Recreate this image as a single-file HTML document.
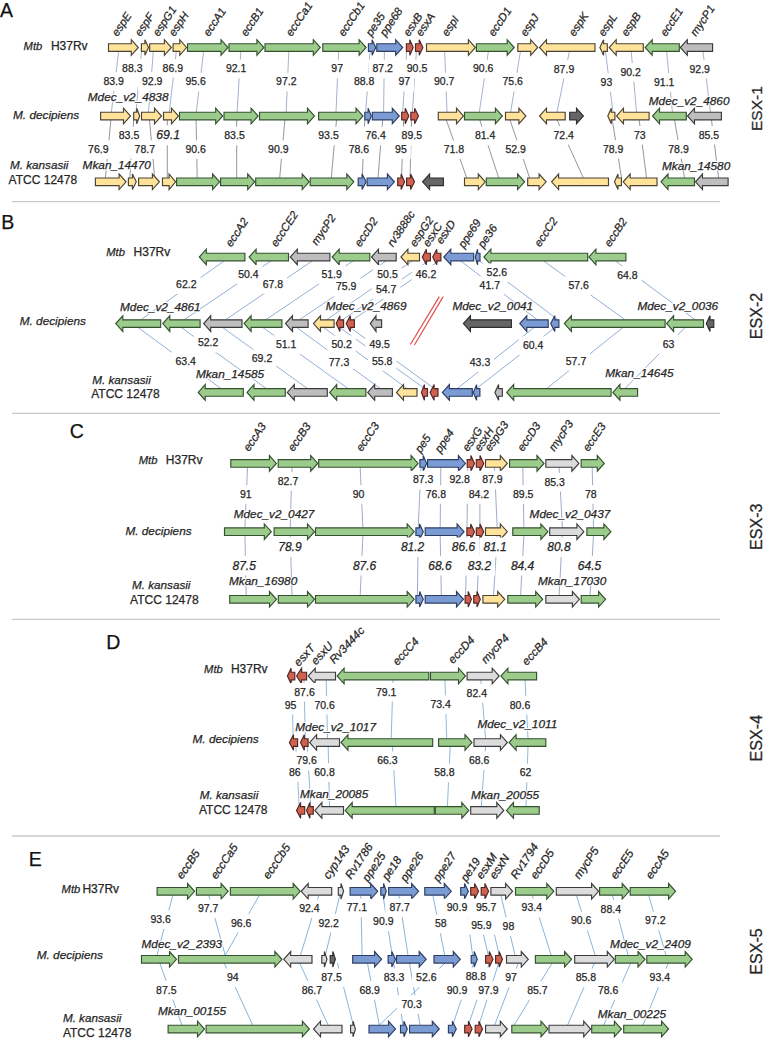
<!DOCTYPE html>
<html><head><meta charset="utf-8"><style>
html,body{margin:0;padding:0;background:#fff;width:763px;height:1039px;overflow:hidden}
svg{display:block}
text{font-family:"Liberation Sans", sans-serif}
text.h{paint-order:stroke;stroke:#fff;stroke-width:2.4px;stroke-linejoin:round}
</style></head><body>
<svg width="763" height="1039" viewBox="0 0 763 1039" font-family='"Liberation Sans", sans-serif'>
<rect width="763" height="1039" fill="#fff"/>
<line x1="12" y1="201.6" x2="720" y2="201.6" stroke="#C8C8C8" stroke-width="1.3"/>
<line x1="12" y1="413.4" x2="720" y2="413.4" stroke="#C8C8C8" stroke-width="1.3"/>
<line x1="12" y1="619.4" x2="720" y2="619.4" stroke="#C8C8C8" stroke-width="1.3"/>
<line x1="12" y1="836.0" x2="720" y2="836.0" stroke="#C8C8C8" stroke-width="1.3"/>
<g stroke="#7FA0CC" stroke-width="0.85" fill="none">
<line x1="118.6" y1="51.5" x2="111.4" y2="112.0" stroke="#94A6C2"/>
<line x1="141.5" y1="51.5" x2="136.0" y2="112.0" stroke="#94A6C2"/>
<line x1="153.3" y1="51.5" x2="148.5" y2="112.0" stroke="#94A6C2"/>
<line x1="176.3" y1="51.5" x2="169.3" y2="112.0" stroke="#94A6C2"/>
<line x1="203.6" y1="51.5" x2="196.3" y2="112.0" stroke="#94A6C2"/>
<line x1="240.8" y1="51.5" x2="237.1" y2="112.0" stroke="#94A6C2"/>
<line x1="288.8" y1="51.5" x2="286.2" y2="112.0" stroke="#94A6C2"/>
<line x1="338.6" y1="51.5" x2="336.0" y2="112.0" stroke="#94A6C2"/>
<line x1="370.0" y1="51.5" x2="365.7" y2="112.0" stroke="#94A6C2"/>
<line x1="384.4" y1="51.5" x2="383.6" y2="112.0" stroke="#94A6C2"/>
<line x1="406.7" y1="51.5" x2="402.7" y2="112.0" stroke="#94A6C2"/>
<line x1="416.4" y1="51.5" x2="412.4" y2="112.0" stroke="#94A6C2"/>
<line x1="444.7" y1="51.5" x2="447.0" y2="112.0" stroke="#94A6C2"/>
<line x1="488.4" y1="51.5" x2="479.3" y2="112.0" stroke="#94A6C2"/>
<line x1="520.4" y1="51.5" x2="510.7" y2="112.0" stroke="#94A6C2"/>
<line x1="569.4" y1="51.5" x2="557.0" y2="112.0" stroke="#94A6C2"/>
<line x1="605.5" y1="51.5" x2="612.9" y2="112.0" stroke="#94A6C2"/>
<line x1="631.2" y1="51.5" x2="636.5" y2="112.0" stroke="#94A6C2"/>
<line x1="666.6" y1="51.5" x2="672.4" y2="112.0" stroke="#94A6C2"/>
<line x1="703.0" y1="51.5" x2="710.4" y2="112.0" stroke="#94A6C2"/>
<line x1="110.9" y1="120.0" x2="105.4" y2="177.8" stroke="#7E848C"/>
<line x1="133.7" y1="120.0" x2="129.8" y2="177.8" stroke="#7E848C"/>
<line x1="149.5" y1="120.0" x2="154.7" y2="177.8" stroke="#7E848C"/>
<line x1="167.3" y1="120.0" x2="167.3" y2="177.8" stroke="#7E848C"/>
<line x1="196.1" y1="120.0" x2="197.2" y2="177.8" stroke="#7E848C"/>
<line x1="236.7" y1="120.0" x2="236.7" y2="177.8" stroke="#7E848C"/>
<line x1="284.9" y1="120.0" x2="279.7" y2="177.8" stroke="#7E848C"/>
<line x1="336.5" y1="120.0" x2="331.3" y2="177.8" stroke="#7E848C"/>
<line x1="364.8" y1="120.0" x2="362.2" y2="177.8" stroke="#7E848C"/>
<line x1="382.7" y1="120.0" x2="378.0" y2="177.8" stroke="#7E848C"/>
<line x1="403.6" y1="120.0" x2="401.5" y2="177.8" stroke="#7E848C"/>
<line x1="411.5" y1="120.0" x2="410.0" y2="177.8" stroke="#7E848C"/>
<line x1="446.3" y1="120.0" x2="466.7" y2="177.8" stroke="#7E848C"/>
<line x1="479.8" y1="120.0" x2="498.7" y2="177.8" stroke="#7E848C"/>
<line x1="510.0" y1="120.0" x2="529.6" y2="177.8" stroke="#7E848C"/>
<line x1="557.1" y1="120.0" x2="583.3" y2="177.8" stroke="#7E848C"/>
<line x1="612.3" y1="120.0" x2="621.5" y2="177.8" stroke="#7E848C"/>
<line x1="639.2" y1="120.0" x2="646.5" y2="177.8" stroke="#7E848C"/>
<line x1="674.5" y1="120.0" x2="684.5" y2="177.8" stroke="#7E848C"/>
<line x1="711.5" y1="120.0" x2="718.6" y2="177.8" stroke="#7E848C"/>
<line x1="224.1" y1="261.0" x2="141.2" y2="319.6"/>
<line x1="270.8" y1="261.0" x2="184.4" y2="319.6"/>
<line x1="312.1" y1="261.0" x2="225.8" y2="319.6"/>
<line x1="353.0" y1="261.0" x2="266.0" y2="319.6"/>
<line x1="385.9" y1="261.0" x2="299.8" y2="319.6"/>
<line x1="412.2" y1="261.0" x2="326.8" y2="319.6"/>
<line x1="428.4" y1="261.0" x2="342.9" y2="319.6"/>
<line x1="438.8" y1="261.0" x2="353.3" y2="319.6"/>
<line x1="460.8" y1="261.0" x2="537.0" y2="319.6"/>
<line x1="479.6" y1="261.0" x2="557.8" y2="319.6"/>
<line x1="543.8" y1="261.0" x2="624.8" y2="319.6"/>
<line x1="615.4" y1="261.0" x2="695.0" y2="319.6"/>
<line x1="138.2" y1="327.6" x2="220.8" y2="388.4"/>
<line x1="181.4" y1="327.6" x2="266.1" y2="388.4"/>
<line x1="222.8" y1="327.6" x2="307.3" y2="388.4"/>
<line x1="263.0" y1="327.6" x2="347.8" y2="388.4"/>
<line x1="296.8" y1="327.6" x2="380.0" y2="388.4"/>
<line x1="323.8" y1="327.6" x2="406.8" y2="388.4"/>
<line x1="339.9" y1="327.6" x2="424.4" y2="388.4"/>
<line x1="350.3" y1="327.6" x2="434.1" y2="388.4"/>
<line x1="534.0" y1="327.6" x2="457.4" y2="388.4"/>
<line x1="554.8" y1="327.6" x2="476.6" y2="388.4"/>
<line x1="685.0" y1="327.6" x2="625.2" y2="388.4"/>
<line x1="622.8" y1="327.6" x2="546.9" y2="388.4"/>
<line x1="247.5" y1="467.4" x2="244.9" y2="527.7" stroke="#8A9CC2"/>
<line x1="292.0" y1="467.4" x2="290.2" y2="527.7" stroke="#8A9CC2"/>
<line x1="360.2" y1="467.4" x2="362.9" y2="527.7" stroke="#8A9CC2"/>
<line x1="421.0" y1="467.4" x2="418.2" y2="527.7" stroke="#8A9CC2"/>
<line x1="440.8" y1="467.4" x2="440.2" y2="527.7" stroke="#8A9CC2"/>
<line x1="467.8" y1="467.4" x2="467.0" y2="527.7" stroke="#8A9CC2"/>
<line x1="479.9" y1="467.4" x2="479.9" y2="527.7" stroke="#8A9CC2"/>
<line x1="494.5" y1="467.4" x2="497.2" y2="527.7" stroke="#8A9CC2"/>
<line x1="522.8" y1="467.4" x2="523.9" y2="527.7" stroke="#8A9CC2"/>
<line x1="559.1" y1="467.4" x2="562.4" y2="527.7" stroke="#8A9CC2"/>
<line x1="592.2" y1="467.4" x2="593.5" y2="527.7" stroke="#8A9CC2"/>
<line x1="244.9" y1="535.7" x2="246.2" y2="595.3" stroke="#8A9CC2"/>
<line x1="290.2" y1="535.7" x2="292.0" y2="595.3" stroke="#8A9CC2"/>
<line x1="362.9" y1="535.7" x2="360.2" y2="595.3" stroke="#8A9CC2"/>
<line x1="418.2" y1="535.7" x2="417.4" y2="595.3" stroke="#8A9CC2"/>
<line x1="440.2" y1="535.7" x2="441.3" y2="595.3" stroke="#8A9CC2"/>
<line x1="467.0" y1="535.7" x2="465.6" y2="595.3" stroke="#8A9CC2"/>
<line x1="479.9" y1="535.7" x2="477.1" y2="595.3" stroke="#8A9CC2"/>
<line x1="497.2" y1="535.7" x2="493.6" y2="595.3" stroke="#8A9CC2"/>
<line x1="523.9" y1="535.7" x2="520.6" y2="595.3" stroke="#8A9CC2"/>
<line x1="562.4" y1="535.7" x2="559.1" y2="595.3" stroke="#8A9CC2"/>
<line x1="593.5" y1="535.7" x2="590.0" y2="595.3" stroke="#8A9CC2"/>
<line x1="291.8" y1="680.0" x2="293.2" y2="738.5" stroke="#7AAED6"/>
<line x1="304.0" y1="680.0" x2="305.3" y2="738.5" stroke="#7AAED6"/>
<line x1="326.2" y1="680.0" x2="327.5" y2="738.5" stroke="#7AAED6"/>
<line x1="393.0" y1="680.0" x2="391.2" y2="738.5" stroke="#7AAED6"/>
<line x1="445.0" y1="680.0" x2="446.7" y2="738.5" stroke="#7AAED6"/>
<line x1="480.8" y1="680.0" x2="485.6" y2="738.5" stroke="#7AAED6"/>
<line x1="525.0" y1="680.0" x2="528.0" y2="738.5" stroke="#7AAED6"/>
<line x1="295.9" y1="746.5" x2="299.2" y2="806.4" stroke="#7AAED6"/>
<line x1="307.3" y1="746.5" x2="310.7" y2="806.4" stroke="#7AAED6"/>
<line x1="328.2" y1="746.5" x2="329.5" y2="806.4" stroke="#7AAED6"/>
<line x1="392.4" y1="746.5" x2="396.0" y2="806.4" stroke="#7AAED6"/>
<line x1="450.2" y1="746.5" x2="447.4" y2="806.4" stroke="#7AAED6"/>
<line x1="485.6" y1="746.5" x2="481.3" y2="806.4" stroke="#7AAED6"/>
<line x1="528.0" y1="746.5" x2="526.0" y2="806.4" stroke="#7AAED6"/>
<line x1="172.8" y1="895.3" x2="157.0" y2="955.3" stroke="#6FA8D6"/>
<line x1="208.7" y1="895.3" x2="225.2" y2="955.3" stroke="#6FA8D6"/>
<line x1="259.3" y1="895.3" x2="225.2" y2="955.3" stroke="#6FA8D6"/>
<line x1="318.8" y1="895.3" x2="300.5" y2="955.3" stroke="#6FA8D6"/>
<line x1="339.8" y1="895.3" x2="325.4" y2="955.3" stroke="#6FA8D6"/>
<line x1="360.8" y1="895.3" x2="362.1" y2="955.3" stroke="#6FA8D6"/>
<line x1="383.0" y1="895.3" x2="392.2" y2="955.3" stroke="#6FA8D6"/>
<line x1="398.8" y1="895.3" x2="408.0" y2="955.3" stroke="#6FA8D6"/>
<line x1="432.9" y1="895.3" x2="444.7" y2="955.3" stroke="#6FA8D6"/>
<line x1="464.7" y1="895.3" x2="472.6" y2="955.3" stroke="#6FA8D6"/>
<line x1="474.2" y1="895.3" x2="488.3" y2="955.3" stroke="#6FA8D6"/>
<line x1="485.2" y1="895.3" x2="499.3" y2="955.3" stroke="#6FA8D6"/>
<line x1="500.9" y1="895.3" x2="515.0" y2="955.3" stroke="#6FA8D6"/>
<line x1="532.3" y1="895.3" x2="551.2" y2="955.3" stroke="#6FA8D6"/>
<line x1="576.4" y1="895.3" x2="595.2" y2="955.3" stroke="#6FA8D6"/>
<line x1="612.5" y1="895.3" x2="628.2" y2="955.3" stroke="#6FA8D6"/>
<line x1="648.7" y1="895.3" x2="666.0" y2="955.3" stroke="#6FA8D6"/>
<line x1="159.9" y1="963.3" x2="181.9" y2="1025.0" stroke="#6FA8D6"/>
<line x1="224.3" y1="963.3" x2="252.6" y2="1025.0" stroke="#6FA8D6"/>
<line x1="299.8" y1="963.3" x2="328.1" y2="1025.0" stroke="#6FA8D6"/>
<line x1="337.5" y1="963.3" x2="353.3" y2="1025.0" stroke="#6FA8D6"/>
<line x1="367.5" y1="963.3" x2="379.3" y2="1025.0" stroke="#6FA8D6"/>
<line x1="444.8" y1="963.3" x2="379.3" y2="1025.0" stroke="#6FA8D6"/>
<line x1="393.7" y1="963.3" x2="402.9" y2="1025.0" stroke="#6FA8D6"/>
<line x1="409.5" y1="963.3" x2="420.0" y2="1025.0" stroke="#6FA8D6"/>
<line x1="473.7" y1="963.3" x2="452.7" y2="1025.0" stroke="#6FA8D6"/>
<line x1="489.4" y1="963.3" x2="468.4" y2="1025.0" stroke="#6FA8D6"/>
<line x1="498.6" y1="963.3" x2="478.9" y2="1025.0" stroke="#6FA8D6"/>
<line x1="518.2" y1="963.3" x2="494.7" y2="1025.0" stroke="#6FA8D6"/>
<line x1="551.9" y1="963.3" x2="514.2" y2="1025.0" stroke="#6FA8D6"/>
<line x1="594.3" y1="963.3" x2="567.6" y2="1025.0" stroke="#6FA8D6"/>
<line x1="630.5" y1="963.3" x2="603.8" y2="1025.0" stroke="#6FA8D6"/>
<line x1="668.2" y1="963.3" x2="643.0" y2="1025.0" stroke="#6FA8D6"/>
</g>
<g>
<polygon points="108.5,43.7 131.3,43.7 131.3,39.7 138.3,47.5 131.3,55.3 131.3,51.3 108.5,51.3" fill="#FFE39B"/>
<polygon points="141.4,43.7 144.9,43.7 144.9,39.7 148.5,47.5 144.9,55.3 144.9,51.3 141.4,51.3" fill="#FFE39B"/>
<polygon points="149.7,43.7 164.4,43.7 164.4,39.7 171.4,47.5 164.4,55.3 164.4,51.3 149.7,51.3" fill="#FFE39B"/>
<polygon points="173.1,43.7 179.8,43.7 179.8,39.7 186.5,47.5 179.8,55.3 179.8,51.3 173.1,51.3" fill="#FFE39B"/>
<polygon points="187.5,43.7 221.0,43.7 221.0,39.7 228.0,47.5 221.0,55.3 221.0,51.3 187.5,51.3" fill="#9CCC8B"/>
<polygon points="229.0,43.7 256.9,43.7 256.9,39.7 263.9,47.5 256.9,55.3 256.9,51.3 229.0,51.3" fill="#9CCC8B"/>
<polygon points="265.0,43.7 313.3,43.7 313.3,39.7 320.3,47.5 313.3,55.3 313.3,51.3 265.0,51.3" fill="#9CCC8B"/>
<polygon points="322.8,43.7 359.1,43.7 359.1,39.7 366.1,47.5 359.1,55.3 359.1,51.3 322.8,51.3" fill="#9CCC8B"/>
<polygon points="368.4,43.7 372.1,43.7 372.1,39.7 375.8,47.5 372.1,55.3 372.1,51.3 368.4,51.3" fill="#7A9BD3"/>
<polygon points="376.8,43.7 395.7,43.7 395.7,39.7 402.7,47.5 395.7,55.3 395.7,51.3 376.8,51.3" fill="#7A9BD3"/>
<polygon points="406.4,43.7 409.8,43.7 409.8,39.7 413.2,47.5 409.8,55.3 409.8,51.3 406.4,51.3" fill="#D0614F"/>
<polygon points="415.5,43.7 419.2,43.7 419.2,39.7 422.9,47.5 419.2,55.3 419.2,51.3 415.5,51.3" fill="#D0614F"/>
<polygon points="426.5,43.7 468.4,43.7 468.4,39.7 475.4,47.5 468.4,55.3 468.4,51.3 426.5,51.3" fill="#FFE39B"/>
<polygon points="476.4,43.7 507.2,43.7 507.2,39.7 514.2,47.5 507.2,55.3 507.2,51.3 476.4,51.3" fill="#9CCC8B"/>
<polygon points="517.8,43.7 530.7,43.7 530.7,39.7 537.7,47.5 530.7,55.3 530.7,51.3 517.8,51.3" fill="#FFE39B"/>
<polygon points="595.0,43.7 546.5,43.7 546.5,39.7 539.5,47.5 546.5,55.3 546.5,51.3 595.0,51.3" fill="#FFE39B"/>
<polygon points="607.3,43.7 603.6,43.7 603.6,39.7 599.9,47.5 603.6,55.3 603.6,51.3 607.3,51.3" fill="#FFE39B"/>
<polygon points="643.3,43.7 616.2,43.7 616.2,39.7 609.2,47.5 616.2,55.3 616.2,51.3 643.3,51.3" fill="#FFE39B"/>
<polygon points="679.3,43.7 652.2,43.7 652.2,39.7 645.2,47.5 652.2,55.3 652.2,51.3 679.3,51.3" fill="#9CCC8B"/>
<polygon points="712.6,43.7 687.3,43.7 687.3,39.7 680.3,47.5 687.3,55.3 687.3,51.3 712.6,51.3" fill="#BEBEBE"/>
<polygon points="100.6,112.2 123.5,112.2 123.5,108.2 130.5,116.0 123.5,123.8 123.5,119.8 100.6,119.8" fill="#FFE39B"/>
<polygon points="133.7,112.2 136.7,112.2 136.7,108.2 139.7,116.0 136.7,123.8 136.7,119.8 133.7,119.8" fill="#FFE39B"/>
<polygon points="141.5,112.2 154.5,112.2 154.5,108.2 161.5,116.0 154.5,123.8 154.5,119.8 141.5,119.8" fill="#FFE39B"/>
<polygon points="163.5,112.2 171.5,112.2 171.5,108.2 178.5,116.0 171.5,123.8 171.5,119.8 163.5,119.8" fill="#FFE39B"/>
<polygon points="179.5,112.2 215.7,112.2 215.7,108.2 222.7,116.0 215.7,123.8 215.7,119.8 179.5,119.8" fill="#9CCC8B"/>
<polygon points="224.0,112.2 251.1,112.2 251.1,108.2 258.1,116.0 251.1,123.8 251.1,119.8 224.0,119.8" fill="#9CCC8B"/>
<polygon points="259.5,112.2 307.5,112.2 307.5,108.2 314.5,116.0 307.5,123.8 307.5,119.8 259.5,119.8" fill="#9CCC8B"/>
<polygon points="318.6,112.2 356.0,112.2 356.0,108.2 363.0,116.0 356.0,123.8 356.0,119.8 318.6,119.8" fill="#9CCC8B"/>
<polygon points="364.8,112.2 368.1,112.2 368.1,108.2 371.3,116.0 368.1,123.8 368.1,119.8 364.8,119.8" fill="#7A9BD3"/>
<polygon points="372.3,112.2 392.3,112.2 392.3,108.2 399.3,116.0 392.3,123.8 392.3,119.8 372.3,119.8" fill="#7A9BD3"/>
<polygon points="401.7,112.2 405.2,112.2 405.2,108.2 408.8,116.0 405.2,123.8 405.2,119.8 401.7,119.8" fill="#D0614F"/>
<polygon points="410.8,112.2 414.6,112.2 414.6,108.2 418.5,116.0 414.6,123.8 414.6,119.8 410.8,119.8" fill="#D0614F"/>
<polygon points="438.3,112.2 456.5,112.2 456.5,108.2 463.5,116.0 456.5,123.8 456.5,119.8 438.3,119.8" fill="#FFE39B"/>
<polygon points="464.5,112.2 495.4,112.2 495.4,108.2 502.4,116.0 495.4,123.8 495.4,119.8 464.5,119.8" fill="#9CCC8B"/>
<polygon points="505.5,112.2 518.9,112.2 518.9,108.2 525.9,116.0 518.9,123.8 518.9,119.8 505.5,119.8" fill="#FFE39B"/>
<polygon points="565.2,112.2 546.5,112.2 546.5,108.2 539.5,116.0 546.5,123.8 546.5,119.8 565.2,119.8" fill="#FFE39B"/>
<polygon points="569.7,112.2 576.5,112.2 576.5,108.2 583.4,116.0 576.5,123.8 576.5,119.8 569.7,119.8" fill="#666666"/>
<polygon points="614.9,112.2 611.3,112.2 611.3,108.2 607.8,116.0 611.3,123.8 611.3,119.8 614.9,119.8" fill="#FFE39B"/>
<polygon points="649.1,112.2 623.5,112.2 623.5,108.2 616.5,116.0 623.5,123.8 623.5,119.8 649.1,119.8" fill="#FFE39B"/>
<polygon points="686.3,112.2 659.5,112.2 659.5,108.2 652.5,116.0 659.5,123.8 659.5,119.8 686.3,119.8" fill="#9CCC8B"/>
<polygon points="721.4,112.2 694.5,112.2 694.5,108.2 687.5,116.0 694.5,123.8 694.5,119.8 721.4,119.8" fill="#BEBEBE"/>
<polygon points="95.4,178.0 119.1,178.0 119.1,174.0 126.1,181.8 119.1,189.6 119.1,185.6 95.4,185.6" fill="#FFE39B"/>
<polygon points="128.4,178.0 132.4,178.0 132.4,174.0 136.3,181.8 132.4,189.6 132.4,185.6 128.4,185.6" fill="#FFE39B"/>
<polygon points="138.6,178.0 152.4,178.0 152.4,174.0 159.4,181.8 152.4,189.6 152.4,185.6 138.6,185.6" fill="#FFE39B"/>
<polygon points="162.5,178.0 169.1,178.0 169.1,174.0 175.6,181.8 169.1,189.6 169.1,185.6 162.5,185.6" fill="#FFE39B"/>
<polygon points="176.6,178.0 212.6,178.0 212.6,174.0 219.6,181.8 212.6,189.6 212.6,185.6 176.6,185.6" fill="#9CCC8B"/>
<polygon points="220.6,178.0 247.7,178.0 247.7,174.0 254.7,181.8 247.7,189.6 247.7,185.6 220.6,185.6" fill="#9CCC8B"/>
<polygon points="255.7,178.0 302.2,178.0 302.2,174.0 309.2,181.8 302.2,189.6 302.2,185.6 255.7,185.6" fill="#9CCC8B"/>
<polygon points="310.2,178.0 346.8,178.0 346.8,174.0 353.8,181.8 346.8,189.6 346.8,185.6 310.2,185.6" fill="#9CCC8B"/>
<polygon points="358.2,178.0 362.1,178.0 362.1,174.0 366.1,181.8 362.1,189.6 362.1,185.6 358.2,185.6" fill="#7A9BD3"/>
<polygon points="367.1,178.0 387.4,178.0 387.4,174.0 394.4,181.8 387.4,189.6 387.4,185.6 367.1,185.6" fill="#7A9BD3"/>
<polygon points="397.7,178.0 401.1,178.0 401.1,174.0 404.6,181.8 401.1,189.6 401.1,185.6 397.7,185.6" fill="#D0614F"/>
<polygon points="406.6,178.0 410.6,178.0 410.6,174.0 414.5,181.8 410.6,189.6 410.6,185.6 406.6,185.6" fill="#D0614F"/>
<polygon points="443.4,178.0 429.6,178.0 429.6,174.0 422.6,181.8 429.6,189.6 429.6,185.6 443.4,185.6" fill="#666666"/>
<polygon points="464.5,178.0 478.3,178.0 478.3,174.0 485.3,181.8 478.3,189.6 478.3,185.6 464.5,185.6" fill="#FFE39B"/>
<polygon points="486.3,178.0 517.6,178.0 517.6,174.0 524.6,181.8 517.6,189.6 517.6,185.6 486.3,185.6" fill="#9CCC8B"/>
<polygon points="527.7,178.0 539.1,178.0 539.1,174.0 546.1,181.8 539.1,189.6 539.1,185.6 527.7,185.6" fill="#FFE39B"/>
<polygon points="608.5,178.0 558.6,178.0 558.6,174.0 551.6,181.8 558.6,189.6 558.6,185.6 608.5,185.6" fill="#FFE39B"/>
<polygon points="621.4,178.0 618.0,178.0 618.0,174.0 614.5,181.8 618.0,189.6 618.0,185.6 621.4,185.6" fill="#FFE39B"/>
<polygon points="657.0,178.0 630.2,178.0 630.2,174.0 623.2,181.8 630.2,189.6 630.2,185.6 657.0,185.6" fill="#FFE39B"/>
<polygon points="694.5,178.0 668.0,178.0 668.0,174.0 661.0,181.8 668.0,189.6 668.0,185.6 694.5,185.6" fill="#9CCC8B"/>
<polygon points="728.1,178.0 702.5,178.0 702.5,174.0 695.5,181.8 702.5,189.6 702.5,185.6 728.1,185.6" fill="#BEBEBE"/>
<polygon points="244.9,253.2 206.3,253.2 206.3,249.2 199.3,257.0 206.3,264.8 206.3,260.8 244.9,260.8" fill="#9CCC8B"/>
<polygon points="288.5,253.2 256.1,253.2 256.1,249.2 249.1,257.0 256.1,264.8 256.1,260.8 288.5,260.8" fill="#9CCC8B"/>
<polygon points="329.9,253.2 297.3,253.2 297.3,249.2 290.3,257.0 297.3,264.8 297.3,260.8 329.9,260.8" fill="#BEBEBE"/>
<polygon points="369.8,253.2 339.2,253.2 339.2,249.2 332.2,257.0 339.2,264.8 339.2,260.8 369.8,260.8" fill="#9CCC8B"/>
<polygon points="396.2,253.2 378.5,253.2 378.5,249.2 371.5,257.0 378.5,264.8 378.5,260.8 396.2,260.8" fill="#BEBEBE"/>
<polygon points="419.5,253.2 407.9,253.2 407.9,249.2 400.9,257.0 407.9,264.8 407.9,260.8 419.5,260.8" fill="#FFE39B"/>
<polygon points="430.4,253.2 426.4,253.2 426.4,249.2 422.3,257.0 426.4,264.8 426.4,260.8 430.4,260.8" fill="#D0614F"/>
<polygon points="440.9,253.2 436.8,253.2 436.8,249.2 432.7,257.0 436.8,264.8 436.8,260.8 440.9,260.8" fill="#D0614F"/>
<polygon points="473.7,253.2 450.8,253.2 450.8,249.2 443.8,257.0 450.8,264.8 450.8,260.8 473.7,260.8" fill="#7A9BD3"/>
<polygon points="480.0,253.2 477.6,253.2 477.6,249.2 475.2,257.0 477.6,264.8 477.6,260.8 480.0,260.8" fill="#7A9BD3"/>
<polygon points="587.7,253.2 490.9,253.2 490.9,249.2 483.9,257.0 490.9,264.8 490.9,260.8 587.7,260.8" fill="#9CCC8B"/>
<polygon points="625.9,253.2 595.9,253.2 595.9,249.2 588.9,257.0 595.9,264.8 595.9,260.8 625.9,260.8" fill="#9CCC8B"/>
<polygon points="160.7,319.8 122.8,319.8 122.8,315.8 115.8,323.6 122.8,331.4 122.8,327.4 160.7,327.4" fill="#9CCC8B"/>
<polygon points="200.1,319.8 169.8,319.8 169.8,315.8 162.8,323.6 169.8,331.4 169.8,327.4 200.1,327.4" fill="#9CCC8B"/>
<polygon points="242.0,319.8 210.7,319.8 210.7,315.8 203.7,323.6 210.7,331.4 210.7,327.4 242.0,327.4" fill="#BEBEBE"/>
<polygon points="281.9,319.8 251.1,319.8 251.1,315.8 244.1,323.6 251.1,331.4 251.1,327.4 281.9,327.4" fill="#9CCC8B"/>
<polygon points="308.1,319.8 292.5,319.8 292.5,315.8 285.5,323.6 292.5,331.4 292.5,327.4 308.1,327.4" fill="#BEBEBE"/>
<polygon points="334.1,319.8 320.5,319.8 320.5,315.8 313.5,323.6 320.5,331.4 320.5,327.4 334.1,327.4" fill="#FFE39B"/>
<polygon points="343.6,319.8 339.9,319.8 339.9,315.8 336.2,323.6 339.9,331.4 339.9,327.4 343.6,327.4" fill="#D0614F"/>
<polygon points="354.4,319.8 350.3,319.8 350.3,315.8 346.2,323.6 350.3,331.4 350.3,327.4 354.4,327.4" fill="#D0614F"/>
<polygon points="381.6,319.8 376.0,319.8 376.0,315.8 370.3,323.6 376.0,331.4 376.0,327.4 381.6,327.4" fill="#BEBEBE"/>
<polygon points="511.4,319.8 470.4,319.8 470.4,315.8 463.4,323.6 470.4,331.4 470.4,327.4 511.4,327.4" fill="#666666"/>
<polygon points="548.2,319.8 526.8,319.8 526.8,315.8 519.8,323.6 526.8,331.4 526.8,327.4 548.2,327.4" fill="#7A9BD3"/>
<polygon points="558.9,319.8 554.8,319.8 554.8,315.8 550.7,323.6 554.8,331.4 554.8,327.4 558.9,327.4" fill="#7A9BD3"/>
<polygon points="665.1,319.8 571.4,319.8 571.4,315.8 564.4,323.6 571.4,331.4 571.4,327.4 665.1,327.4" fill="#9CCC8B"/>
<polygon points="703.5,319.8 673.6,319.8 673.6,315.8 666.6,323.6 673.6,331.4 673.6,327.4 703.5,327.4" fill="#9CCC8B"/>
<polygon points="713.8,319.8 710.0,319.8 710.0,315.8 706.3,323.6 710.0,331.4 710.0,327.4 713.8,327.4" fill="#666666"/>
<polygon points="243.3,388.6 205.2,388.6 205.2,384.6 198.2,392.4 205.2,400.2 205.2,396.2 243.3,396.2" fill="#9CCC8B"/>
<polygon points="285.3,388.6 254.0,388.6 254.0,384.6 247.0,392.4 254.0,400.2 254.0,396.2 285.3,396.2" fill="#9CCC8B"/>
<polygon points="327.3,388.6 294.3,388.6 294.3,384.6 287.3,392.4 294.3,400.2 294.3,396.2 327.3,396.2" fill="#BEBEBE"/>
<polygon points="365.9,388.6 336.7,388.6 336.7,384.6 329.7,392.4 336.7,400.2 336.7,396.2 365.9,396.2" fill="#9CCC8B"/>
<polygon points="392.4,388.6 374.7,388.6 374.7,384.6 367.7,392.4 374.7,400.2 374.7,396.2 392.4,396.2" fill="#BEBEBE"/>
<polygon points="417.0,388.6 403.5,388.6 403.5,384.6 396.5,392.4 403.5,400.2 403.5,396.2 417.0,396.2" fill="#FFE39B"/>
<polygon points="427.5,388.6 424.4,388.6 424.4,384.6 421.4,392.4 424.4,400.2 424.4,396.2 427.5,396.2" fill="#D0614F"/>
<polygon points="438.0,388.6 434.1,388.6 434.1,384.6 430.1,392.4 434.1,400.2 434.1,396.2 438.0,396.2" fill="#D0614F"/>
<polygon points="472.3,388.6 449.4,388.6 449.4,384.6 442.4,392.4 449.4,400.2 449.4,396.2 472.3,396.2" fill="#7A9BD3"/>
<polygon points="479.9,388.6 476.6,388.6 476.6,384.6 473.3,392.4 476.6,400.2 476.6,396.2 479.9,396.2" fill="#7A9BD3"/>
<polygon points="502.3,388.6 498.6,388.6 498.6,384.6 494.9,392.4 498.6,400.2 498.6,396.2 502.3,396.2" fill="#BEBEBE"/>
<polygon points="611.1,388.6 513.7,388.6 513.7,384.6 506.7,392.4 513.7,400.2 513.7,396.2 611.1,396.2" fill="#9CCC8B"/>
<polygon points="637.6,388.6 619.9,388.6 619.9,384.6 612.9,392.4 619.9,400.2 619.9,396.2 637.6,396.2" fill="#9CCC8B"/>
<polygon points="230.8,459.6 269.4,459.6 269.4,455.6 276.4,463.4 269.4,471.2 269.4,467.2 230.8,467.2" fill="#9CCC8B"/>
<polygon points="278.2,459.6 310.7,459.6 310.7,455.6 317.7,463.4 310.7,471.2 310.7,467.2 278.2,467.2" fill="#9CCC8B"/>
<polygon points="318.7,459.6 411.1,459.6 411.1,455.6 418.1,463.4 411.1,471.2 411.1,467.2 318.7,467.2" fill="#9CCC8B"/>
<polygon points="419.9,459.6 423.2,459.6 423.2,455.6 426.6,463.4 423.2,471.2 423.2,467.2 419.9,467.2" fill="#7A9BD3"/>
<polygon points="427.6,459.6 458.4,459.6 458.4,455.6 465.4,463.4 458.4,471.2 458.4,467.2 427.6,467.2" fill="#7A9BD3"/>
<polygon points="467.2,459.6 470.9,459.6 470.9,455.6 474.5,463.4 470.9,471.2 470.9,467.2 467.2,467.2" fill="#D0614F"/>
<polygon points="476.3,459.6 480.0,459.6 480.0,455.6 483.7,463.4 480.0,471.2 480.0,467.2 476.3,467.2" fill="#D0614F"/>
<polygon points="485.5,459.6 500.3,459.6 500.3,455.6 507.3,463.4 500.3,471.2 500.3,467.2 485.5,467.2" fill="#FFE39B"/>
<polygon points="509.6,459.6 537.0,459.6 537.0,455.6 544.0,463.4 537.0,471.2 537.0,467.2 509.6,467.2" fill="#9CCC8B"/>
<polygon points="545.8,459.6 571.9,459.6 571.9,455.6 578.9,463.4 571.9,471.2 571.9,467.2 545.8,467.2" fill="#DCDCDC"/>
<polygon points="581.2,459.6 597.3,459.6 597.3,455.6 604.3,463.4 597.3,471.2 597.3,467.2 581.2,467.2" fill="#9CCC8B"/>
<polygon points="224.5,527.9 264.3,527.9 264.3,523.9 271.3,531.7 264.3,539.5 264.3,535.5 224.5,535.5" fill="#9CCC8B"/>
<polygon points="274.1,527.9 307.5,527.9 307.5,523.9 314.5,531.7 307.5,539.5 307.5,535.5 274.1,535.5" fill="#9CCC8B"/>
<polygon points="315.5,527.9 407.2,527.9 407.2,523.9 414.2,531.7 407.2,539.5 407.2,535.5 315.5,535.5" fill="#9CCC8B"/>
<polygon points="415.9,527.9 419.6,527.9 419.6,523.9 423.3,531.7 419.6,539.5 419.6,535.5 415.9,535.5" fill="#7A9BD3"/>
<polygon points="425.2,527.9 457.1,527.9 457.1,523.9 464.1,531.7 457.1,539.5 457.1,535.5 425.2,535.5" fill="#7A9BD3"/>
<polygon points="466.9,527.9 470.7,527.9 470.7,523.9 474.5,531.7 470.7,539.5 470.7,535.5 466.9,535.5" fill="#D0614F"/>
<polygon points="476.3,527.9 480.0,527.9 480.0,523.9 483.7,531.7 480.0,539.5 480.0,535.5 476.3,535.5" fill="#D0614F"/>
<polygon points="485.5,527.9 500.3,527.9 500.3,523.9 507.3,531.7 500.3,539.5 500.3,535.5 485.5,535.5" fill="#FFE39B"/>
<polygon points="512.8,527.9 540.9,527.9 540.9,523.9 547.9,531.7 540.9,539.5 540.9,535.5 512.8,535.5" fill="#9CCC8B"/>
<polygon points="549.7,527.9 576.9,527.9 576.9,523.9 583.9,531.7 576.9,539.5 576.9,535.5 549.7,535.5" fill="#DCDCDC"/>
<polygon points="586.9,527.9 603.9,527.9 603.9,523.9 610.9,531.7 603.9,539.5 603.9,535.5 586.9,535.5" fill="#9CCC8B"/>
<polygon points="229.7,595.5 269.5,595.5 269.5,591.5 276.5,599.3 269.5,607.1 269.5,603.1 229.7,603.1" fill="#9CCC8B"/>
<polygon points="278.3,595.5 307.5,595.5 307.5,591.5 314.5,599.3 307.5,607.1 307.5,603.1 278.3,603.1" fill="#9CCC8B"/>
<polygon points="315.5,595.5 407.2,595.5 407.2,591.5 414.2,599.3 407.2,607.1 407.2,603.1 315.5,603.1" fill="#9CCC8B"/>
<polygon points="415.9,595.5 419.6,595.5 419.6,591.5 423.3,599.3 419.6,607.1 419.6,603.1 415.9,603.1" fill="#7A9BD3"/>
<polygon points="425.2,595.5 456.5,595.5 456.5,591.5 463.5,599.3 456.5,607.1 456.5,603.1 425.2,603.1" fill="#7A9BD3"/>
<polygon points="465.1,595.5 468.2,595.5 468.2,591.5 471.4,599.3 468.2,607.1 468.2,603.1 465.1,603.1" fill="#D0614F"/>
<polygon points="473.7,595.5 477.0,595.5 477.0,591.5 480.3,599.3 477.0,607.1 477.0,603.1 473.7,603.1" fill="#D0614F"/>
<polygon points="482.9,595.5 497.7,595.5 497.7,591.5 504.7,599.3 497.7,607.1 497.7,603.1 482.9,603.1" fill="#FFE39B"/>
<polygon points="507.8,595.5 535.7,595.5 535.7,591.5 542.7,599.3 535.7,607.1 535.7,603.1 507.8,603.1" fill="#9CCC8B"/>
<polygon points="545.8,595.5 572.4,595.5 572.4,591.5 579.4,599.3 572.4,607.1 572.4,603.1 545.8,603.1" fill="#DCDCDC"/>
<polygon points="581.2,595.5 598.6,595.5 598.6,591.5 605.6,599.3 598.6,607.1 598.6,603.1 581.2,603.1" fill="#9CCC8B"/>
<polygon points="294.8,672.2 291.1,672.2 291.1,668.2 287.4,676.0 291.1,683.8 291.1,679.8 294.8,679.8" fill="#D0614F"/>
<polygon points="306.6,672.2 301.6,672.2 301.6,668.2 296.6,676.0 301.6,683.8 301.6,679.8 306.6,679.8" fill="#D0614F"/>
<polygon points="335.5,672.2 315.2,672.2 315.2,668.2 308.2,676.0 315.2,683.8 315.2,679.8 335.5,679.8" fill="#DCDCDC"/>
<polygon points="428.8,672.2 344.1,672.2 344.1,668.2 337.1,676.0 344.1,683.8 344.1,679.8 428.8,679.8" fill="#9CCC8B"/>
<polygon points="430.5,672.2 458.5,672.2 458.5,668.2 465.5,676.0 458.5,683.8 458.5,679.8 430.5,679.8" fill="#9CCC8B"/>
<polygon points="467.1,672.2 492.2,672.2 492.2,668.2 499.2,676.0 492.2,683.8 492.2,679.8 467.1,679.8" fill="#DCDCDC"/>
<polygon points="536.6,672.2 507.9,672.2 507.9,668.2 500.9,676.0 507.9,683.8 507.9,679.8 536.6,679.8" fill="#9CCC8B"/>
<polygon points="297.6,738.7 293.5,738.7 293.5,734.7 289.4,742.5 293.5,750.3 293.5,746.3 297.6,746.3" fill="#D0614F"/>
<polygon points="308.1,738.7 304.3,738.7 304.3,734.7 300.5,742.5 304.3,750.3 304.3,746.3 308.1,746.3" fill="#D0614F"/>
<polygon points="339.5,738.7 316.6,738.7 316.6,734.7 309.6,742.5 316.6,750.3 316.6,746.3 339.5,746.3" fill="#DCDCDC"/>
<polygon points="432.7,738.7 348.0,738.7 348.0,734.7 341.0,742.5 348.0,750.3 348.0,746.3 432.7,746.3" fill="#9CCC8B"/>
<polygon points="438.6,738.7 465.0,738.7 465.0,734.7 472.0,742.5 465.0,750.3 465.0,746.3 438.6,746.3" fill="#9CCC8B"/>
<polygon points="474.0,738.7 500.4,738.7 500.4,734.7 507.4,742.5 500.4,750.3 500.4,746.3 474.0,746.3" fill="#DCDCDC"/>
<polygon points="545.8,738.7 516.1,738.7 516.1,734.7 509.1,742.5 516.1,750.3 516.1,746.3 545.8,746.3" fill="#9CCC8B"/>
<polygon points="304.7,806.6 300.6,806.6 300.6,802.6 296.5,810.4 300.6,818.2 300.6,814.2 304.7,814.2" fill="#D0614F"/>
<polygon points="313.3,806.6 309.9,806.6 309.9,802.6 306.5,810.4 309.9,818.2 309.9,814.2 313.3,814.2" fill="#D0614F"/>
<polygon points="343.5,806.6 321.9,806.6 321.9,802.6 314.9,810.4 321.9,818.2 321.9,814.2 343.5,814.2" fill="#DCDCDC"/>
<polygon points="434.3,806.6 352.2,806.6 352.2,802.6 345.2,810.4 352.2,818.2 352.2,814.2 434.3,814.2" fill="#9CCC8B"/>
<polygon points="435.3,806.6 461.8,806.6 461.8,802.6 468.8,810.4 461.8,818.2 461.8,814.2 435.3,814.2" fill="#9CCC8B"/>
<polygon points="470.7,806.6 496.8,806.6 496.8,802.6 503.8,810.4 496.8,818.2 496.8,814.2 470.7,814.2" fill="#DCDCDC"/>
<polygon points="539.2,806.6 513.5,806.6 513.5,802.6 506.5,810.4 513.5,818.2 513.5,814.2 539.2,814.2" fill="#9CCC8B"/>
<polygon points="157.1,887.5 187.6,887.5 187.6,883.5 194.6,891.3 187.6,899.1 187.6,895.1 157.1,895.1" fill="#9CCC8B"/>
<polygon points="196.4,887.5 221.1,887.5 221.1,883.5 228.1,891.3 221.1,899.1 221.1,895.1 196.4,895.1" fill="#9CCC8B"/>
<polygon points="230.4,887.5 293.2,887.5 293.2,883.5 300.2,891.3 293.2,899.1 293.2,895.1 230.4,895.1" fill="#9CCC8B"/>
<polygon points="331.7,887.5 308.2,887.5 308.2,883.5 301.2,891.3 308.2,899.1 308.2,895.1 331.7,895.1" fill="#DCDCDC"/>
<polygon points="338.3,887.5 341.0,887.5 341.0,883.5 343.6,891.3 341.0,899.1 341.0,895.1 338.3,895.1" fill="#DCDCDC"/>
<polygon points="350.1,887.5 370.7,887.5 370.7,883.5 377.7,891.3 370.7,899.1 370.7,895.1 350.1,895.1" fill="#7A9BD3"/>
<polygon points="380.8,887.5 383.6,887.5 383.6,883.5 386.3,891.3 383.6,899.1 383.6,895.1 380.8,895.1" fill="#7A9BD3"/>
<polygon points="388.7,887.5 411.6,887.5 411.6,883.5 418.6,891.3 411.6,899.1 411.6,895.1 388.7,895.1" fill="#7A9BD3"/>
<polygon points="424.8,887.5 444.3,887.5 444.3,883.5 451.3,891.3 444.3,899.1 444.3,895.1 424.8,895.1" fill="#7A9BD3"/>
<polygon points="460.7,887.5 464.5,887.5 464.5,883.5 468.4,891.3 464.5,899.1 464.5,895.1 460.7,895.1" fill="#7A9BD3"/>
<polygon points="470.7,887.5 474.6,887.5 474.6,883.5 478.6,891.3 474.6,899.1 474.6,895.1 470.7,895.1" fill="#D0614F"/>
<polygon points="481.2,887.5 484.9,887.5 484.9,883.5 488.6,891.3 484.9,899.1 484.9,895.1 481.2,895.1" fill="#D0614F"/>
<polygon points="490.9,887.5 505.6,887.5 505.6,883.5 512.6,891.3 505.6,899.1 505.6,895.1 490.9,895.1" fill="#DCDCDC"/>
<polygon points="515.5,887.5 546.8,887.5 546.8,883.5 553.8,891.3 546.8,899.1 546.8,895.1 515.5,895.1" fill="#9CCC8B"/>
<polygon points="556.3,887.5 591.6,887.5 591.6,883.5 598.6,891.3 591.6,899.1 591.6,895.1 556.3,895.1" fill="#DCDCDC"/>
<polygon points="599.6,887.5 622.2,887.5 622.2,883.5 629.2,891.3 622.2,899.1 622.2,895.1 599.6,895.1" fill="#9CCC8B"/>
<polygon points="630.2,887.5 668.6,887.5 668.6,883.5 675.6,891.3 668.6,899.1 668.6,895.1 630.2,895.1" fill="#9CCC8B"/>
<polygon points="141.5,955.5 169.5,955.5 169.5,951.5 176.5,959.3 169.5,967.1 169.5,963.1 141.5,963.1" fill="#9CCC8B"/>
<polygon points="178.5,955.5 274.9,955.5 274.9,951.5 281.9,959.3 274.9,967.1 274.9,963.1 178.5,963.1" fill="#9CCC8B"/>
<polygon points="312.0,955.5 290.7,955.5 290.7,951.5 283.7,959.3 290.7,967.1 290.7,963.1 312.0,963.1" fill="#DCDCDC"/>
<polygon points="321.8,955.5 324.4,955.5 324.4,951.5 327.0,959.3 324.4,967.1 324.4,963.1 321.8,963.1" fill="#DCDCDC"/>
<polygon points="330.2,955.5 332.8,955.5 332.8,951.5 335.4,959.3 332.8,967.1 332.8,963.1 330.2,963.1" fill="#666666"/>
<polygon points="352.7,955.5 374.6,955.5 374.6,951.5 381.6,959.3 374.6,967.1 374.6,963.1 352.7,963.1" fill="#7A9BD3"/>
<polygon points="388.1,955.5 391.8,955.5 391.8,951.5 395.5,959.3 391.8,967.1 391.8,963.1 388.1,963.1" fill="#7A9BD3"/>
<polygon points="396.5,955.5 419.2,955.5 419.2,951.5 426.2,959.3 419.2,967.1 419.2,963.1 396.5,963.1" fill="#7A9BD3"/>
<polygon points="434.0,955.5 453.3,955.5 453.3,951.5 460.3,959.3 453.3,967.1 453.3,963.1 434.0,963.1" fill="#7A9BD3"/>
<polygon points="471.2,955.5 474.2,955.5 474.2,951.5 477.3,959.3 474.2,967.1 474.2,963.1 471.2,963.1" fill="#7A9BD3"/>
<polygon points="485.6,955.5 489.3,955.5 489.3,951.5 493.0,959.3 489.3,967.1 489.3,963.1 485.6,963.1" fill="#D0614F"/>
<polygon points="495.6,955.5 499.1,955.5 499.1,951.5 502.5,959.3 499.1,967.1 499.1,963.1 495.6,963.1" fill="#D0614F"/>
<polygon points="506.5,955.5 521.3,955.5 521.3,951.5 528.3,959.3 521.3,967.1 521.3,963.1 506.5,963.1" fill="#DCDCDC"/>
<polygon points="535.4,955.5 564.6,955.5 564.6,951.5 571.6,959.3 564.6,967.1 564.6,963.1 535.4,963.1" fill="#9CCC8B"/>
<polygon points="574.7,955.5 607.3,955.5 607.3,951.5 614.3,959.3 607.3,967.1 607.3,963.1 574.7,963.1" fill="#DCDCDC"/>
<polygon points="615.3,955.5 638.0,955.5 638.0,951.5 645.0,959.3 638.0,967.1 638.0,963.1 615.3,963.1" fill="#9CCC8B"/>
<polygon points="646.8,955.5 685.2,955.5 685.2,951.5 692.2,959.3 685.2,967.1 685.2,963.1 646.8,963.1" fill="#9CCC8B"/>
<polygon points="168.1,1025.2 197.5,1025.2 197.5,1021.2 204.5,1029.0 197.5,1036.8 197.5,1032.8 168.1,1032.8" fill="#9CCC8B"/>
<polygon points="206.1,1025.2 302.4,1025.2 302.4,1021.2 309.4,1029.0 302.4,1036.8 302.4,1032.8 206.1,1032.8" fill="#9CCC8B"/>
<polygon points="342.0,1025.2 320.5,1025.2 320.5,1021.2 313.5,1029.0 320.5,1036.8 320.5,1032.8 342.0,1032.8" fill="#DCDCDC"/>
<polygon points="350.6,1025.2 353.0,1025.2 353.0,1021.2 355.4,1029.0 353.0,1036.8 353.0,1032.8 350.6,1032.8" fill="#DCDCDC"/>
<polygon points="369.0,1025.2 388.5,1025.2 388.5,1021.2 395.5,1029.0 388.5,1036.8 388.5,1032.8 369.0,1032.8" fill="#7A9BD3"/>
<polygon points="400.5,1025.2 403.9,1025.2 403.9,1021.2 407.3,1029.0 403.9,1036.8 403.9,1032.8 400.5,1032.8" fill="#7A9BD3"/>
<polygon points="409.6,1025.2 432.3,1025.2 432.3,1021.2 439.3,1029.0 432.3,1036.8 432.3,1032.8 409.6,1032.8" fill="#7A9BD3"/>
<polygon points="448.4,1025.2 452.4,1025.2 452.4,1021.2 456.3,1029.0 452.4,1036.8 452.4,1032.8 448.4,1032.8" fill="#7A9BD3"/>
<polygon points="464.7,1025.2 468.4,1025.2 468.4,1021.2 472.1,1029.0 468.4,1036.8 468.4,1032.8 464.7,1032.8" fill="#D0614F"/>
<polygon points="475.2,1025.2 478.9,1025.2 478.9,1021.2 482.5,1029.0 478.9,1036.8 478.9,1032.8 475.2,1032.8" fill="#D0614F"/>
<polygon points="485.6,1025.2 500.3,1025.2 500.3,1021.2 507.3,1029.0 500.3,1036.8 500.3,1032.8 485.6,1032.8" fill="#DCDCDC"/>
<polygon points="511.8,1025.2 541.0,1025.2 541.0,1021.2 548.0,1029.0 541.0,1036.8 541.0,1032.8 511.8,1032.8" fill="#9CCC8B"/>
<polygon points="549.0,1025.2 583.7,1025.2 583.7,1021.2 590.7,1029.0 583.7,1036.8 583.7,1032.8 549.0,1032.8" fill="#DCDCDC"/>
<polygon points="591.7,1025.2 614.4,1025.2 614.4,1021.2 621.4,1029.0 614.4,1036.8 614.4,1032.8 591.7,1032.8" fill="#9CCC8B"/>
<polygon points="623.7,1025.2 661.6,1025.2 661.6,1021.2 668.6,1029.0 661.6,1036.8 661.6,1032.8 623.7,1032.8" fill="#9CCC8B"/>
</g>
<g fill="none" stroke-width="1.15" stroke-linejoin="miter">
<polygon points="108.5,43.7 131.3,43.7 131.3,39.7 138.3,47.5 131.3,55.3 131.3,51.3 108.5,51.3" stroke="#4A4232"/>
<polygon points="141.4,43.7 144.9,43.7 144.9,39.7 148.5,47.5 144.9,55.3 144.9,51.3 141.4,51.3" stroke="#4A4232"/>
<polygon points="149.7,43.7 164.4,43.7 164.4,39.7 171.4,47.5 164.4,55.3 164.4,51.3 149.7,51.3" stroke="#4A4232"/>
<polygon points="173.1,43.7 179.8,43.7 179.8,39.7 186.5,47.5 179.8,55.3 179.8,51.3 173.1,51.3" stroke="#4A4232"/>
<polygon points="187.5,43.7 221.0,43.7 221.0,39.7 228.0,47.5 221.0,55.3 221.0,51.3 187.5,51.3" stroke="#33502F"/>
<polygon points="229.0,43.7 256.9,43.7 256.9,39.7 263.9,47.5 256.9,55.3 256.9,51.3 229.0,51.3" stroke="#33502F"/>
<polygon points="265.0,43.7 313.3,43.7 313.3,39.7 320.3,47.5 313.3,55.3 313.3,51.3 265.0,51.3" stroke="#33502F"/>
<polygon points="322.8,43.7 359.1,43.7 359.1,39.7 366.1,47.5 359.1,55.3 359.1,51.3 322.8,51.3" stroke="#33502F"/>
<polygon points="368.4,43.7 372.1,43.7 372.1,39.7 375.8,47.5 372.1,55.3 372.1,51.3 368.4,51.3" stroke="#2C3C62"/>
<polygon points="376.8,43.7 395.7,43.7 395.7,39.7 402.7,47.5 395.7,55.3 395.7,51.3 376.8,51.3" stroke="#2C3C62"/>
<polygon points="406.4,43.7 409.8,43.7 409.8,39.7 413.2,47.5 409.8,55.3 409.8,51.3 406.4,51.3" stroke="#4E2624"/>
<polygon points="415.5,43.7 419.2,43.7 419.2,39.7 422.9,47.5 419.2,55.3 419.2,51.3 415.5,51.3" stroke="#4E2624"/>
<polygon points="426.5,43.7 468.4,43.7 468.4,39.7 475.4,47.5 468.4,55.3 468.4,51.3 426.5,51.3" stroke="#4A4232"/>
<polygon points="476.4,43.7 507.2,43.7 507.2,39.7 514.2,47.5 507.2,55.3 507.2,51.3 476.4,51.3" stroke="#33502F"/>
<polygon points="517.8,43.7 530.7,43.7 530.7,39.7 537.7,47.5 530.7,55.3 530.7,51.3 517.8,51.3" stroke="#4A4232"/>
<polygon points="595.0,43.7 546.5,43.7 546.5,39.7 539.5,47.5 546.5,55.3 546.5,51.3 595.0,51.3" stroke="#4A4232"/>
<polygon points="607.3,43.7 603.6,43.7 603.6,39.7 599.9,47.5 603.6,55.3 603.6,51.3 607.3,51.3" stroke="#4A4232"/>
<polygon points="643.3,43.7 616.2,43.7 616.2,39.7 609.2,47.5 616.2,55.3 616.2,51.3 643.3,51.3" stroke="#4A4232"/>
<polygon points="679.3,43.7 652.2,43.7 652.2,39.7 645.2,47.5 652.2,55.3 652.2,51.3 679.3,51.3" stroke="#33502F"/>
<polygon points="712.6,43.7 687.3,43.7 687.3,39.7 680.3,47.5 687.3,55.3 687.3,51.3 712.6,51.3" stroke="#3A3A3A"/>
<polygon points="100.6,112.2 123.5,112.2 123.5,108.2 130.5,116.0 123.5,123.8 123.5,119.8 100.6,119.8" stroke="#4A4232"/>
<polygon points="133.7,112.2 136.7,112.2 136.7,108.2 139.7,116.0 136.7,123.8 136.7,119.8 133.7,119.8" stroke="#4A4232"/>
<polygon points="141.5,112.2 154.5,112.2 154.5,108.2 161.5,116.0 154.5,123.8 154.5,119.8 141.5,119.8" stroke="#4A4232"/>
<polygon points="163.5,112.2 171.5,112.2 171.5,108.2 178.5,116.0 171.5,123.8 171.5,119.8 163.5,119.8" stroke="#4A4232"/>
<polygon points="179.5,112.2 215.7,112.2 215.7,108.2 222.7,116.0 215.7,123.8 215.7,119.8 179.5,119.8" stroke="#33502F"/>
<polygon points="224.0,112.2 251.1,112.2 251.1,108.2 258.1,116.0 251.1,123.8 251.1,119.8 224.0,119.8" stroke="#33502F"/>
<polygon points="259.5,112.2 307.5,112.2 307.5,108.2 314.5,116.0 307.5,123.8 307.5,119.8 259.5,119.8" stroke="#33502F"/>
<polygon points="318.6,112.2 356.0,112.2 356.0,108.2 363.0,116.0 356.0,123.8 356.0,119.8 318.6,119.8" stroke="#33502F"/>
<polygon points="364.8,112.2 368.1,112.2 368.1,108.2 371.3,116.0 368.1,123.8 368.1,119.8 364.8,119.8" stroke="#2C3C62"/>
<polygon points="372.3,112.2 392.3,112.2 392.3,108.2 399.3,116.0 392.3,123.8 392.3,119.8 372.3,119.8" stroke="#2C3C62"/>
<polygon points="401.7,112.2 405.2,112.2 405.2,108.2 408.8,116.0 405.2,123.8 405.2,119.8 401.7,119.8" stroke="#4E2624"/>
<polygon points="410.8,112.2 414.6,112.2 414.6,108.2 418.5,116.0 414.6,123.8 414.6,119.8 410.8,119.8" stroke="#4E2624"/>
<polygon points="438.3,112.2 456.5,112.2 456.5,108.2 463.5,116.0 456.5,123.8 456.5,119.8 438.3,119.8" stroke="#4A4232"/>
<polygon points="464.5,112.2 495.4,112.2 495.4,108.2 502.4,116.0 495.4,123.8 495.4,119.8 464.5,119.8" stroke="#33502F"/>
<polygon points="505.5,112.2 518.9,112.2 518.9,108.2 525.9,116.0 518.9,123.8 518.9,119.8 505.5,119.8" stroke="#4A4232"/>
<polygon points="565.2,112.2 546.5,112.2 546.5,108.2 539.5,116.0 546.5,123.8 546.5,119.8 565.2,119.8" stroke="#4A4232"/>
<polygon points="569.7,112.2 576.5,112.2 576.5,108.2 583.4,116.0 576.5,123.8 576.5,119.8 569.7,119.8" stroke="#2E2E2E"/>
<polygon points="614.9,112.2 611.3,112.2 611.3,108.2 607.8,116.0 611.3,123.8 611.3,119.8 614.9,119.8" stroke="#4A4232"/>
<polygon points="649.1,112.2 623.5,112.2 623.5,108.2 616.5,116.0 623.5,123.8 623.5,119.8 649.1,119.8" stroke="#4A4232"/>
<polygon points="686.3,112.2 659.5,112.2 659.5,108.2 652.5,116.0 659.5,123.8 659.5,119.8 686.3,119.8" stroke="#33502F"/>
<polygon points="721.4,112.2 694.5,112.2 694.5,108.2 687.5,116.0 694.5,123.8 694.5,119.8 721.4,119.8" stroke="#3A3A3A"/>
<polygon points="95.4,178.0 119.1,178.0 119.1,174.0 126.1,181.8 119.1,189.6 119.1,185.6 95.4,185.6" stroke="#4A4232"/>
<polygon points="128.4,178.0 132.4,178.0 132.4,174.0 136.3,181.8 132.4,189.6 132.4,185.6 128.4,185.6" stroke="#4A4232"/>
<polygon points="138.6,178.0 152.4,178.0 152.4,174.0 159.4,181.8 152.4,189.6 152.4,185.6 138.6,185.6" stroke="#4A4232"/>
<polygon points="162.5,178.0 169.1,178.0 169.1,174.0 175.6,181.8 169.1,189.6 169.1,185.6 162.5,185.6" stroke="#4A4232"/>
<polygon points="176.6,178.0 212.6,178.0 212.6,174.0 219.6,181.8 212.6,189.6 212.6,185.6 176.6,185.6" stroke="#33502F"/>
<polygon points="220.6,178.0 247.7,178.0 247.7,174.0 254.7,181.8 247.7,189.6 247.7,185.6 220.6,185.6" stroke="#33502F"/>
<polygon points="255.7,178.0 302.2,178.0 302.2,174.0 309.2,181.8 302.2,189.6 302.2,185.6 255.7,185.6" stroke="#33502F"/>
<polygon points="310.2,178.0 346.8,178.0 346.8,174.0 353.8,181.8 346.8,189.6 346.8,185.6 310.2,185.6" stroke="#33502F"/>
<polygon points="358.2,178.0 362.1,178.0 362.1,174.0 366.1,181.8 362.1,189.6 362.1,185.6 358.2,185.6" stroke="#2C3C62"/>
<polygon points="367.1,178.0 387.4,178.0 387.4,174.0 394.4,181.8 387.4,189.6 387.4,185.6 367.1,185.6" stroke="#2C3C62"/>
<polygon points="397.7,178.0 401.1,178.0 401.1,174.0 404.6,181.8 401.1,189.6 401.1,185.6 397.7,185.6" stroke="#4E2624"/>
<polygon points="406.6,178.0 410.6,178.0 410.6,174.0 414.5,181.8 410.6,189.6 410.6,185.6 406.6,185.6" stroke="#4E2624"/>
<polygon points="443.4,178.0 429.6,178.0 429.6,174.0 422.6,181.8 429.6,189.6 429.6,185.6 443.4,185.6" stroke="#2E2E2E"/>
<polygon points="464.5,178.0 478.3,178.0 478.3,174.0 485.3,181.8 478.3,189.6 478.3,185.6 464.5,185.6" stroke="#4A4232"/>
<polygon points="486.3,178.0 517.6,178.0 517.6,174.0 524.6,181.8 517.6,189.6 517.6,185.6 486.3,185.6" stroke="#33502F"/>
<polygon points="527.7,178.0 539.1,178.0 539.1,174.0 546.1,181.8 539.1,189.6 539.1,185.6 527.7,185.6" stroke="#4A4232"/>
<polygon points="608.5,178.0 558.6,178.0 558.6,174.0 551.6,181.8 558.6,189.6 558.6,185.6 608.5,185.6" stroke="#4A4232"/>
<polygon points="621.4,178.0 618.0,178.0 618.0,174.0 614.5,181.8 618.0,189.6 618.0,185.6 621.4,185.6" stroke="#4A4232"/>
<polygon points="657.0,178.0 630.2,178.0 630.2,174.0 623.2,181.8 630.2,189.6 630.2,185.6 657.0,185.6" stroke="#4A4232"/>
<polygon points="694.5,178.0 668.0,178.0 668.0,174.0 661.0,181.8 668.0,189.6 668.0,185.6 694.5,185.6" stroke="#33502F"/>
<polygon points="728.1,178.0 702.5,178.0 702.5,174.0 695.5,181.8 702.5,189.6 702.5,185.6 728.1,185.6" stroke="#3A3A3A"/>
<polygon points="244.9,253.2 206.3,253.2 206.3,249.2 199.3,257.0 206.3,264.8 206.3,260.8 244.9,260.8" stroke="#33502F"/>
<polygon points="288.5,253.2 256.1,253.2 256.1,249.2 249.1,257.0 256.1,264.8 256.1,260.8 288.5,260.8" stroke="#33502F"/>
<polygon points="329.9,253.2 297.3,253.2 297.3,249.2 290.3,257.0 297.3,264.8 297.3,260.8 329.9,260.8" stroke="#3A3A3A"/>
<polygon points="369.8,253.2 339.2,253.2 339.2,249.2 332.2,257.0 339.2,264.8 339.2,260.8 369.8,260.8" stroke="#33502F"/>
<polygon points="396.2,253.2 378.5,253.2 378.5,249.2 371.5,257.0 378.5,264.8 378.5,260.8 396.2,260.8" stroke="#3A3A3A"/>
<polygon points="419.5,253.2 407.9,253.2 407.9,249.2 400.9,257.0 407.9,264.8 407.9,260.8 419.5,260.8" stroke="#4A4232"/>
<polygon points="430.4,253.2 426.4,253.2 426.4,249.2 422.3,257.0 426.4,264.8 426.4,260.8 430.4,260.8" stroke="#4E2624"/>
<polygon points="440.9,253.2 436.8,253.2 436.8,249.2 432.7,257.0 436.8,264.8 436.8,260.8 440.9,260.8" stroke="#4E2624"/>
<polygon points="473.7,253.2 450.8,253.2 450.8,249.2 443.8,257.0 450.8,264.8 450.8,260.8 473.7,260.8" stroke="#2C3C62"/>
<polygon points="480.0,253.2 477.6,253.2 477.6,249.2 475.2,257.0 477.6,264.8 477.6,260.8 480.0,260.8" stroke="#2C3C62"/>
<polygon points="587.7,253.2 490.9,253.2 490.9,249.2 483.9,257.0 490.9,264.8 490.9,260.8 587.7,260.8" stroke="#33502F"/>
<polygon points="625.9,253.2 595.9,253.2 595.9,249.2 588.9,257.0 595.9,264.8 595.9,260.8 625.9,260.8" stroke="#33502F"/>
<polygon points="160.7,319.8 122.8,319.8 122.8,315.8 115.8,323.6 122.8,331.4 122.8,327.4 160.7,327.4" stroke="#33502F"/>
<polygon points="200.1,319.8 169.8,319.8 169.8,315.8 162.8,323.6 169.8,331.4 169.8,327.4 200.1,327.4" stroke="#33502F"/>
<polygon points="242.0,319.8 210.7,319.8 210.7,315.8 203.7,323.6 210.7,331.4 210.7,327.4 242.0,327.4" stroke="#3A3A3A"/>
<polygon points="281.9,319.8 251.1,319.8 251.1,315.8 244.1,323.6 251.1,331.4 251.1,327.4 281.9,327.4" stroke="#33502F"/>
<polygon points="308.1,319.8 292.5,319.8 292.5,315.8 285.5,323.6 292.5,331.4 292.5,327.4 308.1,327.4" stroke="#3A3A3A"/>
<polygon points="334.1,319.8 320.5,319.8 320.5,315.8 313.5,323.6 320.5,331.4 320.5,327.4 334.1,327.4" stroke="#4A4232"/>
<polygon points="343.6,319.8 339.9,319.8 339.9,315.8 336.2,323.6 339.9,331.4 339.9,327.4 343.6,327.4" stroke="#4E2624"/>
<polygon points="354.4,319.8 350.3,319.8 350.3,315.8 346.2,323.6 350.3,331.4 350.3,327.4 354.4,327.4" stroke="#4E2624"/>
<polygon points="381.6,319.8 376.0,319.8 376.0,315.8 370.3,323.6 376.0,331.4 376.0,327.4 381.6,327.4" stroke="#3A3A3A"/>
<polygon points="511.4,319.8 470.4,319.8 470.4,315.8 463.4,323.6 470.4,331.4 470.4,327.4 511.4,327.4" stroke="#2E2E2E"/>
<polygon points="548.2,319.8 526.8,319.8 526.8,315.8 519.8,323.6 526.8,331.4 526.8,327.4 548.2,327.4" stroke="#2C3C62"/>
<polygon points="558.9,319.8 554.8,319.8 554.8,315.8 550.7,323.6 554.8,331.4 554.8,327.4 558.9,327.4" stroke="#2C3C62"/>
<polygon points="665.1,319.8 571.4,319.8 571.4,315.8 564.4,323.6 571.4,331.4 571.4,327.4 665.1,327.4" stroke="#33502F"/>
<polygon points="703.5,319.8 673.6,319.8 673.6,315.8 666.6,323.6 673.6,331.4 673.6,327.4 703.5,327.4" stroke="#33502F"/>
<polygon points="713.8,319.8 710.0,319.8 710.0,315.8 706.3,323.6 710.0,331.4 710.0,327.4 713.8,327.4" stroke="#2E2E2E"/>
<polygon points="243.3,388.6 205.2,388.6 205.2,384.6 198.2,392.4 205.2,400.2 205.2,396.2 243.3,396.2" stroke="#33502F"/>
<polygon points="285.3,388.6 254.0,388.6 254.0,384.6 247.0,392.4 254.0,400.2 254.0,396.2 285.3,396.2" stroke="#33502F"/>
<polygon points="327.3,388.6 294.3,388.6 294.3,384.6 287.3,392.4 294.3,400.2 294.3,396.2 327.3,396.2" stroke="#3A3A3A"/>
<polygon points="365.9,388.6 336.7,388.6 336.7,384.6 329.7,392.4 336.7,400.2 336.7,396.2 365.9,396.2" stroke="#33502F"/>
<polygon points="392.4,388.6 374.7,388.6 374.7,384.6 367.7,392.4 374.7,400.2 374.7,396.2 392.4,396.2" stroke="#3A3A3A"/>
<polygon points="417.0,388.6 403.5,388.6 403.5,384.6 396.5,392.4 403.5,400.2 403.5,396.2 417.0,396.2" stroke="#4A4232"/>
<polygon points="427.5,388.6 424.4,388.6 424.4,384.6 421.4,392.4 424.4,400.2 424.4,396.2 427.5,396.2" stroke="#4E2624"/>
<polygon points="438.0,388.6 434.1,388.6 434.1,384.6 430.1,392.4 434.1,400.2 434.1,396.2 438.0,396.2" stroke="#4E2624"/>
<polygon points="472.3,388.6 449.4,388.6 449.4,384.6 442.4,392.4 449.4,400.2 449.4,396.2 472.3,396.2" stroke="#2C3C62"/>
<polygon points="479.9,388.6 476.6,388.6 476.6,384.6 473.3,392.4 476.6,400.2 476.6,396.2 479.9,396.2" stroke="#2C3C62"/>
<polygon points="502.3,388.6 498.6,388.6 498.6,384.6 494.9,392.4 498.6,400.2 498.6,396.2 502.3,396.2" stroke="#3A3A3A"/>
<polygon points="611.1,388.6 513.7,388.6 513.7,384.6 506.7,392.4 513.7,400.2 513.7,396.2 611.1,396.2" stroke="#33502F"/>
<polygon points="637.6,388.6 619.9,388.6 619.9,384.6 612.9,392.4 619.9,400.2 619.9,396.2 637.6,396.2" stroke="#33502F"/>
<polygon points="230.8,459.6 269.4,459.6 269.4,455.6 276.4,463.4 269.4,471.2 269.4,467.2 230.8,467.2" stroke="#33502F"/>
<polygon points="278.2,459.6 310.7,459.6 310.7,455.6 317.7,463.4 310.7,471.2 310.7,467.2 278.2,467.2" stroke="#33502F"/>
<polygon points="318.7,459.6 411.1,459.6 411.1,455.6 418.1,463.4 411.1,471.2 411.1,467.2 318.7,467.2" stroke="#33502F"/>
<polygon points="419.9,459.6 423.2,459.6 423.2,455.6 426.6,463.4 423.2,471.2 423.2,467.2 419.9,467.2" stroke="#2C3C62"/>
<polygon points="427.6,459.6 458.4,459.6 458.4,455.6 465.4,463.4 458.4,471.2 458.4,467.2 427.6,467.2" stroke="#2C3C62"/>
<polygon points="467.2,459.6 470.9,459.6 470.9,455.6 474.5,463.4 470.9,471.2 470.9,467.2 467.2,467.2" stroke="#4E2624"/>
<polygon points="476.3,459.6 480.0,459.6 480.0,455.6 483.7,463.4 480.0,471.2 480.0,467.2 476.3,467.2" stroke="#4E2624"/>
<polygon points="485.5,459.6 500.3,459.6 500.3,455.6 507.3,463.4 500.3,471.2 500.3,467.2 485.5,467.2" stroke="#4A4232"/>
<polygon points="509.6,459.6 537.0,459.6 537.0,455.6 544.0,463.4 537.0,471.2 537.0,467.2 509.6,467.2" stroke="#33502F"/>
<polygon points="545.8,459.6 571.9,459.6 571.9,455.6 578.9,463.4 571.9,471.2 571.9,467.2 545.8,467.2" stroke="#3C3C3C"/>
<polygon points="581.2,459.6 597.3,459.6 597.3,455.6 604.3,463.4 597.3,471.2 597.3,467.2 581.2,467.2" stroke="#33502F"/>
<polygon points="224.5,527.9 264.3,527.9 264.3,523.9 271.3,531.7 264.3,539.5 264.3,535.5 224.5,535.5" stroke="#33502F"/>
<polygon points="274.1,527.9 307.5,527.9 307.5,523.9 314.5,531.7 307.5,539.5 307.5,535.5 274.1,535.5" stroke="#33502F"/>
<polygon points="315.5,527.9 407.2,527.9 407.2,523.9 414.2,531.7 407.2,539.5 407.2,535.5 315.5,535.5" stroke="#33502F"/>
<polygon points="415.9,527.9 419.6,527.9 419.6,523.9 423.3,531.7 419.6,539.5 419.6,535.5 415.9,535.5" stroke="#2C3C62"/>
<polygon points="425.2,527.9 457.1,527.9 457.1,523.9 464.1,531.7 457.1,539.5 457.1,535.5 425.2,535.5" stroke="#2C3C62"/>
<polygon points="466.9,527.9 470.7,527.9 470.7,523.9 474.5,531.7 470.7,539.5 470.7,535.5 466.9,535.5" stroke="#4E2624"/>
<polygon points="476.3,527.9 480.0,527.9 480.0,523.9 483.7,531.7 480.0,539.5 480.0,535.5 476.3,535.5" stroke="#4E2624"/>
<polygon points="485.5,527.9 500.3,527.9 500.3,523.9 507.3,531.7 500.3,539.5 500.3,535.5 485.5,535.5" stroke="#4A4232"/>
<polygon points="512.8,527.9 540.9,527.9 540.9,523.9 547.9,531.7 540.9,539.5 540.9,535.5 512.8,535.5" stroke="#33502F"/>
<polygon points="549.7,527.9 576.9,527.9 576.9,523.9 583.9,531.7 576.9,539.5 576.9,535.5 549.7,535.5" stroke="#3C3C3C"/>
<polygon points="586.9,527.9 603.9,527.9 603.9,523.9 610.9,531.7 603.9,539.5 603.9,535.5 586.9,535.5" stroke="#33502F"/>
<polygon points="229.7,595.5 269.5,595.5 269.5,591.5 276.5,599.3 269.5,607.1 269.5,603.1 229.7,603.1" stroke="#33502F"/>
<polygon points="278.3,595.5 307.5,595.5 307.5,591.5 314.5,599.3 307.5,607.1 307.5,603.1 278.3,603.1" stroke="#33502F"/>
<polygon points="315.5,595.5 407.2,595.5 407.2,591.5 414.2,599.3 407.2,607.1 407.2,603.1 315.5,603.1" stroke="#33502F"/>
<polygon points="415.9,595.5 419.6,595.5 419.6,591.5 423.3,599.3 419.6,607.1 419.6,603.1 415.9,603.1" stroke="#2C3C62"/>
<polygon points="425.2,595.5 456.5,595.5 456.5,591.5 463.5,599.3 456.5,607.1 456.5,603.1 425.2,603.1" stroke="#2C3C62"/>
<polygon points="465.1,595.5 468.2,595.5 468.2,591.5 471.4,599.3 468.2,607.1 468.2,603.1 465.1,603.1" stroke="#4E2624"/>
<polygon points="473.7,595.5 477.0,595.5 477.0,591.5 480.3,599.3 477.0,607.1 477.0,603.1 473.7,603.1" stroke="#4E2624"/>
<polygon points="482.9,595.5 497.7,595.5 497.7,591.5 504.7,599.3 497.7,607.1 497.7,603.1 482.9,603.1" stroke="#4A4232"/>
<polygon points="507.8,595.5 535.7,595.5 535.7,591.5 542.7,599.3 535.7,607.1 535.7,603.1 507.8,603.1" stroke="#33502F"/>
<polygon points="545.8,595.5 572.4,595.5 572.4,591.5 579.4,599.3 572.4,607.1 572.4,603.1 545.8,603.1" stroke="#3C3C3C"/>
<polygon points="581.2,595.5 598.6,595.5 598.6,591.5 605.6,599.3 598.6,607.1 598.6,603.1 581.2,603.1" stroke="#33502F"/>
<polygon points="294.8,672.2 291.1,672.2 291.1,668.2 287.4,676.0 291.1,683.8 291.1,679.8 294.8,679.8" stroke="#4E2624"/>
<polygon points="306.6,672.2 301.6,672.2 301.6,668.2 296.6,676.0 301.6,683.8 301.6,679.8 306.6,679.8" stroke="#4E2624"/>
<polygon points="335.5,672.2 315.2,672.2 315.2,668.2 308.2,676.0 315.2,683.8 315.2,679.8 335.5,679.8" stroke="#3C3C3C"/>
<polygon points="428.8,672.2 344.1,672.2 344.1,668.2 337.1,676.0 344.1,683.8 344.1,679.8 428.8,679.8" stroke="#33502F"/>
<polygon points="430.5,672.2 458.5,672.2 458.5,668.2 465.5,676.0 458.5,683.8 458.5,679.8 430.5,679.8" stroke="#33502F"/>
<polygon points="467.1,672.2 492.2,672.2 492.2,668.2 499.2,676.0 492.2,683.8 492.2,679.8 467.1,679.8" stroke="#3C3C3C"/>
<polygon points="536.6,672.2 507.9,672.2 507.9,668.2 500.9,676.0 507.9,683.8 507.9,679.8 536.6,679.8" stroke="#33502F"/>
<polygon points="297.6,738.7 293.5,738.7 293.5,734.7 289.4,742.5 293.5,750.3 293.5,746.3 297.6,746.3" stroke="#4E2624"/>
<polygon points="308.1,738.7 304.3,738.7 304.3,734.7 300.5,742.5 304.3,750.3 304.3,746.3 308.1,746.3" stroke="#4E2624"/>
<polygon points="339.5,738.7 316.6,738.7 316.6,734.7 309.6,742.5 316.6,750.3 316.6,746.3 339.5,746.3" stroke="#3C3C3C"/>
<polygon points="432.7,738.7 348.0,738.7 348.0,734.7 341.0,742.5 348.0,750.3 348.0,746.3 432.7,746.3" stroke="#33502F"/>
<polygon points="438.6,738.7 465.0,738.7 465.0,734.7 472.0,742.5 465.0,750.3 465.0,746.3 438.6,746.3" stroke="#33502F"/>
<polygon points="474.0,738.7 500.4,738.7 500.4,734.7 507.4,742.5 500.4,750.3 500.4,746.3 474.0,746.3" stroke="#3C3C3C"/>
<polygon points="545.8,738.7 516.1,738.7 516.1,734.7 509.1,742.5 516.1,750.3 516.1,746.3 545.8,746.3" stroke="#33502F"/>
<polygon points="304.7,806.6 300.6,806.6 300.6,802.6 296.5,810.4 300.6,818.2 300.6,814.2 304.7,814.2" stroke="#4E2624"/>
<polygon points="313.3,806.6 309.9,806.6 309.9,802.6 306.5,810.4 309.9,818.2 309.9,814.2 313.3,814.2" stroke="#4E2624"/>
<polygon points="343.5,806.6 321.9,806.6 321.9,802.6 314.9,810.4 321.9,818.2 321.9,814.2 343.5,814.2" stroke="#3C3C3C"/>
<polygon points="434.3,806.6 352.2,806.6 352.2,802.6 345.2,810.4 352.2,818.2 352.2,814.2 434.3,814.2" stroke="#33502F"/>
<polygon points="435.3,806.6 461.8,806.6 461.8,802.6 468.8,810.4 461.8,818.2 461.8,814.2 435.3,814.2" stroke="#33502F"/>
<polygon points="470.7,806.6 496.8,806.6 496.8,802.6 503.8,810.4 496.8,818.2 496.8,814.2 470.7,814.2" stroke="#3C3C3C"/>
<polygon points="539.2,806.6 513.5,806.6 513.5,802.6 506.5,810.4 513.5,818.2 513.5,814.2 539.2,814.2" stroke="#33502F"/>
<polygon points="157.1,887.5 187.6,887.5 187.6,883.5 194.6,891.3 187.6,899.1 187.6,895.1 157.1,895.1" stroke="#33502F"/>
<polygon points="196.4,887.5 221.1,887.5 221.1,883.5 228.1,891.3 221.1,899.1 221.1,895.1 196.4,895.1" stroke="#33502F"/>
<polygon points="230.4,887.5 293.2,887.5 293.2,883.5 300.2,891.3 293.2,899.1 293.2,895.1 230.4,895.1" stroke="#33502F"/>
<polygon points="331.7,887.5 308.2,887.5 308.2,883.5 301.2,891.3 308.2,899.1 308.2,895.1 331.7,895.1" stroke="#3C3C3C"/>
<polygon points="338.3,887.5 341.0,887.5 341.0,883.5 343.6,891.3 341.0,899.1 341.0,895.1 338.3,895.1" stroke="#3C3C3C"/>
<polygon points="350.1,887.5 370.7,887.5 370.7,883.5 377.7,891.3 370.7,899.1 370.7,895.1 350.1,895.1" stroke="#2C3C62"/>
<polygon points="380.8,887.5 383.6,887.5 383.6,883.5 386.3,891.3 383.6,899.1 383.6,895.1 380.8,895.1" stroke="#2C3C62"/>
<polygon points="388.7,887.5 411.6,887.5 411.6,883.5 418.6,891.3 411.6,899.1 411.6,895.1 388.7,895.1" stroke="#2C3C62"/>
<polygon points="424.8,887.5 444.3,887.5 444.3,883.5 451.3,891.3 444.3,899.1 444.3,895.1 424.8,895.1" stroke="#2C3C62"/>
<polygon points="460.7,887.5 464.5,887.5 464.5,883.5 468.4,891.3 464.5,899.1 464.5,895.1 460.7,895.1" stroke="#2C3C62"/>
<polygon points="470.7,887.5 474.6,887.5 474.6,883.5 478.6,891.3 474.6,899.1 474.6,895.1 470.7,895.1" stroke="#4E2624"/>
<polygon points="481.2,887.5 484.9,887.5 484.9,883.5 488.6,891.3 484.9,899.1 484.9,895.1 481.2,895.1" stroke="#4E2624"/>
<polygon points="490.9,887.5 505.6,887.5 505.6,883.5 512.6,891.3 505.6,899.1 505.6,895.1 490.9,895.1" stroke="#3C3C3C"/>
<polygon points="515.5,887.5 546.8,887.5 546.8,883.5 553.8,891.3 546.8,899.1 546.8,895.1 515.5,895.1" stroke="#33502F"/>
<polygon points="556.3,887.5 591.6,887.5 591.6,883.5 598.6,891.3 591.6,899.1 591.6,895.1 556.3,895.1" stroke="#3C3C3C"/>
<polygon points="599.6,887.5 622.2,887.5 622.2,883.5 629.2,891.3 622.2,899.1 622.2,895.1 599.6,895.1" stroke="#33502F"/>
<polygon points="630.2,887.5 668.6,887.5 668.6,883.5 675.6,891.3 668.6,899.1 668.6,895.1 630.2,895.1" stroke="#33502F"/>
<polygon points="141.5,955.5 169.5,955.5 169.5,951.5 176.5,959.3 169.5,967.1 169.5,963.1 141.5,963.1" stroke="#33502F"/>
<polygon points="178.5,955.5 274.9,955.5 274.9,951.5 281.9,959.3 274.9,967.1 274.9,963.1 178.5,963.1" stroke="#33502F"/>
<polygon points="312.0,955.5 290.7,955.5 290.7,951.5 283.7,959.3 290.7,967.1 290.7,963.1 312.0,963.1" stroke="#3C3C3C"/>
<polygon points="321.8,955.5 324.4,955.5 324.4,951.5 327.0,959.3 324.4,967.1 324.4,963.1 321.8,963.1" stroke="#3C3C3C"/>
<polygon points="330.2,955.5 332.8,955.5 332.8,951.5 335.4,959.3 332.8,967.1 332.8,963.1 330.2,963.1" stroke="#2E2E2E"/>
<polygon points="352.7,955.5 374.6,955.5 374.6,951.5 381.6,959.3 374.6,967.1 374.6,963.1 352.7,963.1" stroke="#2C3C62"/>
<polygon points="388.1,955.5 391.8,955.5 391.8,951.5 395.5,959.3 391.8,967.1 391.8,963.1 388.1,963.1" stroke="#2C3C62"/>
<polygon points="396.5,955.5 419.2,955.5 419.2,951.5 426.2,959.3 419.2,967.1 419.2,963.1 396.5,963.1" stroke="#2C3C62"/>
<polygon points="434.0,955.5 453.3,955.5 453.3,951.5 460.3,959.3 453.3,967.1 453.3,963.1 434.0,963.1" stroke="#2C3C62"/>
<polygon points="471.2,955.5 474.2,955.5 474.2,951.5 477.3,959.3 474.2,967.1 474.2,963.1 471.2,963.1" stroke="#2C3C62"/>
<polygon points="485.6,955.5 489.3,955.5 489.3,951.5 493.0,959.3 489.3,967.1 489.3,963.1 485.6,963.1" stroke="#4E2624"/>
<polygon points="495.6,955.5 499.1,955.5 499.1,951.5 502.5,959.3 499.1,967.1 499.1,963.1 495.6,963.1" stroke="#4E2624"/>
<polygon points="506.5,955.5 521.3,955.5 521.3,951.5 528.3,959.3 521.3,967.1 521.3,963.1 506.5,963.1" stroke="#3C3C3C"/>
<polygon points="535.4,955.5 564.6,955.5 564.6,951.5 571.6,959.3 564.6,967.1 564.6,963.1 535.4,963.1" stroke="#33502F"/>
<polygon points="574.7,955.5 607.3,955.5 607.3,951.5 614.3,959.3 607.3,967.1 607.3,963.1 574.7,963.1" stroke="#3C3C3C"/>
<polygon points="615.3,955.5 638.0,955.5 638.0,951.5 645.0,959.3 638.0,967.1 638.0,963.1 615.3,963.1" stroke="#33502F"/>
<polygon points="646.8,955.5 685.2,955.5 685.2,951.5 692.2,959.3 685.2,967.1 685.2,963.1 646.8,963.1" stroke="#33502F"/>
<polygon points="168.1,1025.2 197.5,1025.2 197.5,1021.2 204.5,1029.0 197.5,1036.8 197.5,1032.8 168.1,1032.8" stroke="#33502F"/>
<polygon points="206.1,1025.2 302.4,1025.2 302.4,1021.2 309.4,1029.0 302.4,1036.8 302.4,1032.8 206.1,1032.8" stroke="#33502F"/>
<polygon points="342.0,1025.2 320.5,1025.2 320.5,1021.2 313.5,1029.0 320.5,1036.8 320.5,1032.8 342.0,1032.8" stroke="#3C3C3C"/>
<polygon points="350.6,1025.2 353.0,1025.2 353.0,1021.2 355.4,1029.0 353.0,1036.8 353.0,1032.8 350.6,1032.8" stroke="#3C3C3C"/>
<polygon points="369.0,1025.2 388.5,1025.2 388.5,1021.2 395.5,1029.0 388.5,1036.8 388.5,1032.8 369.0,1032.8" stroke="#2C3C62"/>
<polygon points="400.5,1025.2 403.9,1025.2 403.9,1021.2 407.3,1029.0 403.9,1036.8 403.9,1032.8 400.5,1032.8" stroke="#2C3C62"/>
<polygon points="409.6,1025.2 432.3,1025.2 432.3,1021.2 439.3,1029.0 432.3,1036.8 432.3,1032.8 409.6,1032.8" stroke="#2C3C62"/>
<polygon points="448.4,1025.2 452.4,1025.2 452.4,1021.2 456.3,1029.0 452.4,1036.8 452.4,1032.8 448.4,1032.8" stroke="#2C3C62"/>
<polygon points="464.7,1025.2 468.4,1025.2 468.4,1021.2 472.1,1029.0 468.4,1036.8 468.4,1032.8 464.7,1032.8" stroke="#4E2624"/>
<polygon points="475.2,1025.2 478.9,1025.2 478.9,1021.2 482.5,1029.0 478.9,1036.8 478.9,1032.8 475.2,1032.8" stroke="#4E2624"/>
<polygon points="485.6,1025.2 500.3,1025.2 500.3,1021.2 507.3,1029.0 500.3,1036.8 500.3,1032.8 485.6,1032.8" stroke="#3C3C3C"/>
<polygon points="511.8,1025.2 541.0,1025.2 541.0,1021.2 548.0,1029.0 541.0,1036.8 541.0,1032.8 511.8,1032.8" stroke="#33502F"/>
<polygon points="549.0,1025.2 583.7,1025.2 583.7,1021.2 590.7,1029.0 583.7,1036.8 583.7,1032.8 549.0,1032.8" stroke="#3C3C3C"/>
<polygon points="591.7,1025.2 614.4,1025.2 614.4,1021.2 621.4,1029.0 614.4,1036.8 614.4,1032.8 591.7,1032.8" stroke="#33502F"/>
<polygon points="623.7,1025.2 661.6,1025.2 661.6,1021.2 668.6,1029.0 661.6,1036.8 661.6,1032.8 623.7,1032.8" stroke="#33502F"/>
</g>
<line x1="410.4" y1="344.5" x2="439.3" y2="296.6" stroke="#E05050" stroke-width="1.2"/>
<line x1="414.4" y1="345.0" x2="443.2" y2="296.6" stroke="#E05050" stroke-width="1.2"/>
<g fill="#fff" stroke="#fff" stroke-width="2.4" stroke-linejoin="round">
<rect x="118.1" y="59.0" width="28.4" height="18.6" stroke="none"/>
<rect x="158.5" y="59.0" width="28.4" height="18.6" stroke="none"/>
<rect x="221.9" y="59.7" width="28.4" height="18.6" stroke="none"/>
<rect x="327.4" y="59.7" width="19.7" height="18.6" stroke="none"/>
<rect x="368.5" y="59.7" width="28.4" height="18.6" stroke="none"/>
<rect x="402.8" y="59.7" width="28.4" height="18.6" stroke="none"/>
<rect x="469.0" y="59.7" width="28.4" height="18.6" stroke="none"/>
<rect x="549.7" y="60.0" width="28.4" height="18.6" stroke="none"/>
<rect x="616.4" y="63.0" width="28.4" height="18.6" stroke="none"/>
<rect x="685.4" y="60.0" width="28.4" height="18.6" stroke="none"/>
<rect x="99.4" y="72.1" width="28.4" height="18.6" stroke="none"/>
<rect x="138.0" y="72.1" width="28.4" height="18.6" stroke="none"/>
<rect x="181.4" y="72.8" width="28.4" height="18.6" stroke="none"/>
<rect x="272.1" y="72.8" width="28.4" height="18.6" stroke="none"/>
<rect x="349.9" y="72.8" width="28.4" height="18.6" stroke="none"/>
<rect x="394.5" y="72.8" width="19.7" height="18.6" stroke="none"/>
<rect x="430.0" y="72.8" width="28.4" height="18.6" stroke="none"/>
<rect x="498.5" y="72.8" width="28.4" height="18.6" stroke="none"/>
<rect x="596.5" y="73.2" width="19.7" height="18.6" stroke="none"/>
<rect x="650.0" y="73.2" width="28.4" height="18.6" stroke="none"/>
<rect x="114.8" y="126.7" width="28.4" height="18.6" stroke="none"/>
<rect x="220.3" y="126.7" width="28.4" height="18.6" stroke="none"/>
<rect x="314.3" y="126.7" width="28.4" height="18.6" stroke="none"/>
<rect x="361.4" y="126.7" width="28.4" height="18.6" stroke="none"/>
<rect x="397.6" y="126.7" width="28.4" height="18.6" stroke="none"/>
<rect x="470.9" y="126.7" width="28.4" height="18.6" stroke="none"/>
<rect x="549.4" y="126.0" width="28.4" height="18.6" stroke="none"/>
<rect x="630.0" y="126.0" width="19.7" height="18.6" stroke="none"/>
<rect x="694.7" y="126.0" width="28.4" height="18.6" stroke="none"/>
<rect x="84.1" y="140.3" width="28.4" height="18.6" stroke="none"/>
<rect x="130.6" y="140.3" width="28.4" height="18.6" stroke="none"/>
<rect x="181.4" y="140.3" width="28.4" height="18.6" stroke="none"/>
<rect x="264.1" y="140.3" width="28.4" height="18.6" stroke="none"/>
<rect x="344.6" y="140.3" width="28.4" height="18.6" stroke="none"/>
<rect x="391.1" y="140.3" width="19.7" height="18.6" stroke="none"/>
<rect x="439.7" y="140.3" width="28.4" height="18.6" stroke="none"/>
<rect x="501.4" y="140.3" width="28.4" height="18.6" stroke="none"/>
<rect x="598.9" y="140.0" width="28.4" height="18.6" stroke="none"/>
<rect x="664.3" y="140.0" width="28.4" height="18.6" stroke="none"/>
<rect x="152.3" y="125.4" width="31.9" height="19.9" stroke="none"/>
<text x="87.8" y="101.0" font-size="11.8" font-style="italic" text-anchor="start">Mdec_v2_4838</text>
<text x="648.8" y="104.6" font-size="11.8" font-style="italic" text-anchor="start">Mdec_v2_4860</text>
<text x="82.6" y="168.6" font-size="11.8" font-style="italic" text-anchor="start">Mkan_14470</text>
<text x="662.0" y="170.4" font-size="11.8" font-style="italic" text-anchor="start">Mkan_14580</text>
<rect x="172.1" y="275.2" width="28.4" height="18.6" stroke="none"/>
<rect x="234.1" y="265.2" width="28.4" height="18.6" stroke="none"/>
<rect x="258.6" y="275.2" width="28.4" height="18.6" stroke="none"/>
<rect x="317.4" y="265.2" width="28.4" height="18.6" stroke="none"/>
<rect x="332.0" y="277.8" width="28.4" height="18.6" stroke="none"/>
<rect x="373.2" y="265.2" width="28.4" height="18.6" stroke="none"/>
<rect x="371.9" y="280.4" width="28.4" height="18.6" stroke="none"/>
<rect x="411.8" y="265.2" width="28.4" height="18.6" stroke="none"/>
<rect x="482.5" y="263.4" width="28.4" height="18.6" stroke="none"/>
<rect x="475.6" y="276.4" width="28.4" height="18.6" stroke="none"/>
<rect x="564.4" y="276.4" width="28.4" height="18.6" stroke="none"/>
<rect x="613.1" y="266.0" width="28.4" height="18.6" stroke="none"/>
<rect x="193.8" y="333.8" width="28.4" height="18.6" stroke="none"/>
<rect x="171.5" y="352.1" width="28.4" height="18.6" stroke="none"/>
<rect x="271.8" y="335.6" width="28.4" height="18.6" stroke="none"/>
<rect x="247.8" y="349.4" width="28.4" height="18.6" stroke="none"/>
<rect x="327.4" y="335.6" width="28.4" height="18.6" stroke="none"/>
<rect x="324.8" y="353.4" width="28.4" height="18.6" stroke="none"/>
<rect x="365.4" y="335.6" width="28.4" height="18.6" stroke="none"/>
<rect x="368.0" y="352.1" width="28.4" height="18.6" stroke="none"/>
<rect x="465.8" y="353.4" width="28.4" height="18.6" stroke="none"/>
<rect x="518.9" y="336.4" width="28.4" height="18.6" stroke="none"/>
<rect x="561.7" y="352.1" width="28.4" height="18.6" stroke="none"/>
<rect x="658.8" y="335.1" width="19.7" height="18.6" stroke="none"/>
<text x="120.0" y="311.0" font-size="11.8" font-style="italic" text-anchor="start">Mdec_v2_4861</text>
<text x="325.8" y="310.4" font-size="11.8" font-style="italic" text-anchor="start">Mdec_v2_4869</text>
<text x="452.4" y="310.4" font-size="11.8" font-style="italic" text-anchor="start">Mdec_v2_0041</text>
<text x="637.4" y="310.3" font-size="11.8" font-style="italic" text-anchor="start">Mdec_v2_0036</text>
<text x="195.9" y="377.8" font-size="11.8" font-style="italic" text-anchor="start">Mkan_14585</text>
<text x="605.3" y="376.5" font-size="11.8" font-style="italic" text-anchor="start">Mkan_14645</text>
<rect x="236.0" y="485.2" width="19.7" height="18.6" stroke="none"/>
<rect x="273.8" y="472.1" width="28.4" height="18.6" stroke="none"/>
<rect x="348.8" y="485.2" width="19.7" height="18.6" stroke="none"/>
<rect x="408.9" y="470.8" width="28.4" height="18.6" stroke="none"/>
<rect x="421.6" y="485.2" width="28.4" height="18.6" stroke="none"/>
<rect x="445.3" y="470.8" width="28.4" height="18.6" stroke="none"/>
<rect x="464.6" y="485.2" width="28.4" height="18.6" stroke="none"/>
<rect x="478.1" y="470.8" width="28.4" height="18.6" stroke="none"/>
<rect x="508.9" y="485.2" width="28.4" height="18.6" stroke="none"/>
<rect x="540.4" y="472.9" width="28.4" height="18.6" stroke="none"/>
<rect x="580.9" y="485.2" width="19.7" height="18.6" stroke="none"/>
<rect x="228.5" y="555.9" width="31.4" height="19.6" stroke="none"/>
<rect x="274.2" y="537.5" width="31.4" height="19.6" stroke="none"/>
<rect x="348.9" y="555.9" width="31.4" height="19.6" stroke="none"/>
<rect x="397.0" y="537.5" width="31.4" height="19.6" stroke="none"/>
<rect x="424.3" y="555.9" width="31.4" height="19.6" stroke="none"/>
<rect x="447.8" y="537.5" width="31.4" height="19.6" stroke="none"/>
<rect x="463.7" y="555.9" width="31.4" height="19.6" stroke="none"/>
<rect x="479.4" y="537.5" width="31.4" height="19.6" stroke="none"/>
<rect x="506.9" y="555.9" width="31.4" height="19.6" stroke="none"/>
<rect x="543.2" y="537.5" width="31.4" height="19.6" stroke="none"/>
<rect x="573.8" y="555.9" width="31.4" height="19.6" stroke="none"/>
<text x="233.7" y="517.8" font-size="11.8" font-style="italic" text-anchor="start">Mdec_v2_0427</text>
<text x="529.6" y="518.3" font-size="11.8" font-style="italic" text-anchor="start">Mdec_v2_0437</text>
<text x="229.0" y="585.2" font-size="11.8" font-style="italic" text-anchor="start">Mkan_16980</text>
<text x="538.0" y="585.2" font-size="11.8" font-style="italic" text-anchor="start">Mkan_17030</text>
<rect x="290.3" y="682.9" width="28.4" height="18.6" stroke="none"/>
<rect x="280.6" y="696.0" width="19.7" height="18.6" stroke="none"/>
<rect x="310.3" y="696.0" width="28.4" height="18.6" stroke="none"/>
<rect x="372.0" y="682.9" width="28.4" height="18.6" stroke="none"/>
<rect x="462.6" y="683.9" width="28.4" height="18.6" stroke="none"/>
<rect x="426.4" y="695.4" width="28.4" height="18.6" stroke="none"/>
<rect x="505.8" y="696.0" width="28.4" height="18.6" stroke="none"/>
<rect x="292.4" y="751.7" width="28.4" height="18.6" stroke="none"/>
<rect x="285.0" y="763.2" width="19.7" height="18.6" stroke="none"/>
<rect x="310.2" y="763.2" width="28.4" height="18.6" stroke="none"/>
<rect x="373.1" y="751.5" width="28.4" height="18.6" stroke="none"/>
<rect x="464.9" y="751.5" width="28.4" height="18.6" stroke="none"/>
<rect x="430.1" y="763.7" width="28.4" height="18.6" stroke="none"/>
<rect x="515.6" y="763.7" width="19.7" height="18.6" stroke="none"/>
<text x="295.3" y="731.0" font-size="11.8" font-style="italic" text-anchor="start">Mdec_v2_1017</text>
<text x="477.4" y="728.3" font-size="11.8" font-style="italic" text-anchor="start">Mdec_v2_1011</text>
<text x="300.0" y="798.4" font-size="11.8" font-style="italic" text-anchor="start">Mkan_20085</text>
<text x="470.9" y="798.6" font-size="11.8" font-style="italic" text-anchor="start">Mkan_20055</text>
<rect x="146.3" y="910.4" width="28.4" height="18.6" stroke="none"/>
<rect x="193.8" y="899.5" width="28.4" height="18.6" stroke="none"/>
<rect x="226.9" y="913.9" width="28.4" height="18.6" stroke="none"/>
<rect x="295.2" y="899.5" width="28.4" height="18.6" stroke="none"/>
<rect x="314.4" y="913.9" width="28.4" height="18.6" stroke="none"/>
<rect x="342.6" y="898.7" width="28.4" height="18.6" stroke="none"/>
<rect x="369.1" y="912.6" width="28.4" height="18.6" stroke="none"/>
<rect x="385.4" y="898.7" width="28.4" height="18.6" stroke="none"/>
<rect x="431.0" y="914.7" width="19.7" height="18.6" stroke="none"/>
<rect x="442.7" y="898.7" width="28.4" height="18.6" stroke="none"/>
<rect x="471.9" y="898.7" width="28.4" height="18.6" stroke="none"/>
<rect x="467.2" y="916.0" width="28.4" height="18.6" stroke="none"/>
<rect x="498.5" y="917.3" width="19.7" height="18.6" stroke="none"/>
<rect x="517.6" y="898.7" width="28.4" height="18.6" stroke="none"/>
<rect x="566.9" y="911.8" width="28.4" height="18.6" stroke="none"/>
<rect x="596.5" y="900.0" width="28.4" height="18.6" stroke="none"/>
<rect x="641.1" y="911.8" width="28.4" height="18.6" stroke="none"/>
<rect x="152.1" y="980.9" width="28.4" height="18.6" stroke="none"/>
<rect x="223.0" y="968.5" width="19.7" height="18.6" stroke="none"/>
<rect x="317.3" y="968.5" width="28.4" height="18.6" stroke="none"/>
<rect x="297.6" y="981.1" width="28.4" height="18.6" stroke="none"/>
<rect x="379.8" y="968.5" width="28.4" height="18.6" stroke="none"/>
<rect x="412.1" y="968.5" width="28.4" height="18.6" stroke="none"/>
<rect x="461.6" y="967.7" width="28.4" height="18.6" stroke="none"/>
<rect x="501.3" y="968.5" width="19.7" height="18.6" stroke="none"/>
<rect x="355.4" y="981.1" width="28.4" height="18.6" stroke="none"/>
<rect x="442.7" y="981.1" width="28.4" height="18.6" stroke="none"/>
<rect x="474.2" y="981.1" width="28.4" height="18.6" stroke="none"/>
<rect x="397.4" y="995.2" width="28.4" height="18.6" stroke="none"/>
<rect x="571.6" y="968.5" width="28.4" height="18.6" stroke="none"/>
<rect x="645.6" y="968.5" width="28.4" height="18.6" stroke="none"/>
<rect x="523.1" y="981.1" width="28.4" height="18.6" stroke="none"/>
<rect x="593.9" y="981.1" width="28.4" height="18.6" stroke="none"/>
<text x="141.5" y="948.3" font-size="11.8" font-style="italic" text-anchor="start">Mdec_v2_2393</text>
<text x="610.1" y="947.5" font-size="11.8" font-style="italic" text-anchor="start">Mdec_v2_2409</text>
<text x="157.9" y="1015.2" font-size="11.8" font-style="italic" text-anchor="start">Mkan_00155</text>
<text x="597.8" y="1017.8" font-size="11.8" font-style="italic" text-anchor="start">Mkan_00225</text>
</g>
<g stroke="#262626" stroke-width="0.25">
<text x="0.0" y="17.0" font-size="19.5" text-anchor="start" fill="#111">A</text>
<text x="23.6" y="50.0" font-size="11.2" font-style="italic" text-anchor="start" fill="#262626">Mtb</text>
<text x="50.9" y="50.0" font-size="12" text-anchor="start" fill="#262626">H37Rv</text>
<text x="13.0" y="118.8" font-size="11.8" font-style="italic" text-anchor="start" fill="#262626">M. decipiens</text>
<text x="10.0" y="168.6" font-size="11.7" font-style="italic" text-anchor="start" fill="#262626">M. kansasii</text>
<text x="8.6" y="183.8" font-size="12" text-anchor="start" fill="#262626">ATCC 12478</text>
<text x="762.0" y="131.0" font-size="15.5" text-anchor="start" transform="rotate(-90 762.0 131.0)" fill="#262626">ESX-1</text>
<text x="132.3" y="71.6" font-size="10.5" text-anchor="middle" fill="#262626">88.3</text>
<text x="172.8" y="71.6" font-size="10.5" text-anchor="middle" fill="#262626">86.9</text>
<text x="236.1" y="72.3" font-size="10.5" text-anchor="middle" fill="#262626">92.1</text>
<text x="337.2" y="72.3" font-size="10.5" text-anchor="middle" fill="#262626">97</text>
<text x="382.7" y="72.3" font-size="10.5" text-anchor="middle" fill="#262626">87.2</text>
<text x="417.0" y="72.3" font-size="10.5" text-anchor="middle" fill="#262626">90.5</text>
<text x="483.2" y="72.3" font-size="10.5" text-anchor="middle" fill="#262626">90.6</text>
<text x="564.0" y="72.6" font-size="10.5" text-anchor="middle" fill="#262626">87.9</text>
<text x="630.6" y="75.6" font-size="10.5" text-anchor="middle" fill="#262626">90.2</text>
<text x="699.7" y="72.6" font-size="10.5" text-anchor="middle" fill="#262626">92.9</text>
<text x="113.6" y="84.7" font-size="10.5" text-anchor="middle" fill="#262626">83.9</text>
<text x="152.2" y="84.7" font-size="10.5" text-anchor="middle" fill="#262626">92.9</text>
<text x="195.6" y="85.4" font-size="10.5" text-anchor="middle" fill="#262626">95.6</text>
<text x="286.3" y="85.4" font-size="10.5" text-anchor="middle" fill="#262626">97.2</text>
<text x="364.1" y="85.4" font-size="10.5" text-anchor="middle" fill="#262626">88.8</text>
<text x="404.3" y="85.4" font-size="10.5" text-anchor="middle" fill="#262626">97</text>
<text x="444.2" y="85.4" font-size="10.5" text-anchor="middle" fill="#262626">90.7</text>
<text x="512.7" y="85.4" font-size="10.5" text-anchor="middle" fill="#262626">75.6</text>
<text x="606.4" y="85.8" font-size="10.5" text-anchor="middle" fill="#262626">93</text>
<text x="664.2" y="85.8" font-size="10.5" text-anchor="middle" fill="#262626">91.1</text>
<text x="129.0" y="139.3" font-size="10.5" text-anchor="middle" fill="#262626">83.5</text>
<text x="234.5" y="139.3" font-size="10.5" text-anchor="middle" fill="#262626">83.5</text>
<text x="328.5" y="139.3" font-size="10.5" text-anchor="middle" fill="#262626">93.5</text>
<text x="375.6" y="139.3" font-size="10.5" text-anchor="middle" fill="#262626">76.4</text>
<text x="411.8" y="139.3" font-size="10.5" text-anchor="middle" fill="#262626">89.5</text>
<text x="485.1" y="139.3" font-size="10.5" text-anchor="middle" fill="#262626">81.4</text>
<text x="563.7" y="138.6" font-size="10.5" text-anchor="middle" fill="#262626">72.4</text>
<text x="639.8" y="138.6" font-size="10.5" text-anchor="middle" fill="#262626">73</text>
<text x="708.9" y="138.6" font-size="10.5" text-anchor="middle" fill="#262626">85.5</text>
<text x="98.3" y="152.9" font-size="10.5" text-anchor="middle" fill="#262626">76.9</text>
<text x="144.8" y="152.9" font-size="10.5" text-anchor="middle" fill="#262626">78.7</text>
<text x="195.6" y="152.9" font-size="10.5" text-anchor="middle" fill="#262626">90.6</text>
<text x="278.3" y="152.9" font-size="10.5" text-anchor="middle" fill="#262626">90.9</text>
<text x="358.9" y="152.9" font-size="10.5" text-anchor="middle" fill="#262626">78.6</text>
<text x="400.9" y="152.9" font-size="10.5" text-anchor="middle" fill="#262626">95</text>
<text x="453.9" y="152.9" font-size="10.5" text-anchor="middle" fill="#262626">71.8</text>
<text x="515.6" y="152.9" font-size="10.5" text-anchor="middle" fill="#262626">52.9</text>
<text x="613.1" y="152.6" font-size="10.5" text-anchor="middle" fill="#262626">78.9</text>
<text x="678.5" y="152.6" font-size="10.5" text-anchor="middle" fill="#262626">78.9</text>
<text x="168.2" y="139.3" font-size="12.3" font-style="italic" text-anchor="middle" fill="#262626">69.1</text>
<text x="87.8" y="101.0" font-size="11.8" font-style="italic" text-anchor="start" fill="#262626">Mdec_v2_4838</text>
<text x="648.8" y="104.6" font-size="11.8" font-style="italic" text-anchor="start" fill="#262626">Mdec_v2_4860</text>
<text x="82.6" y="168.6" font-size="11.8" font-style="italic" text-anchor="start" fill="#262626">Mkan_14470</text>
<text x="662.0" y="170.4" font-size="11.8" font-style="italic" text-anchor="start" fill="#262626">Mkan_14580</text>
<text x="117.5" y="37.0" font-size="11.3" font-style="italic" text-anchor="start" transform="rotate(-56 117.5 37.0)" fill="#262626">espE</text>
<text x="140.5" y="37.0" font-size="11.3" font-style="italic" text-anchor="start" transform="rotate(-56 140.5 37.0)" fill="#262626">espF</text>
<text x="158.4" y="37.0" font-size="11.3" font-style="italic" text-anchor="start" transform="rotate(-56 158.4 37.0)" fill="#262626">espG1</text>
<text x="174.6" y="37.0" font-size="11.3" font-style="italic" text-anchor="start" transform="rotate(-56 174.6 37.0)" fill="#262626">espH</text>
<text x="208.9" y="37.0" font-size="11.3" font-style="italic" text-anchor="start" transform="rotate(-56 208.9 37.0)" fill="#262626">eccA1</text>
<text x="246.4" y="37.0" font-size="11.3" font-style="italic" text-anchor="start" transform="rotate(-56 246.4 37.0)" fill="#262626">eccB1</text>
<text x="291.5" y="37.0" font-size="11.3" font-style="italic" text-anchor="start" transform="rotate(-56 291.5 37.0)" fill="#262626">eccCa1</text>
<text x="343.9" y="37.0" font-size="11.3" font-style="italic" text-anchor="start" transform="rotate(-56 343.9 37.0)" fill="#262626">eccCb1</text>
<text x="371.5" y="37.0" font-size="11.3" font-style="italic" text-anchor="start" transform="rotate(-56 371.5 37.0)" fill="#262626">pe35</text>
<text x="385.5" y="37.0" font-size="11.3" font-style="italic" text-anchor="start" transform="rotate(-56 385.5 37.0)" fill="#262626">ppe68</text>
<text x="409.0" y="37.0" font-size="11.3" font-style="italic" text-anchor="start" transform="rotate(-56 409.0 37.0)" fill="#262626">esxB</text>
<text x="421.5" y="37.0" font-size="11.3" font-style="italic" text-anchor="start" transform="rotate(-56 421.5 37.0)" fill="#262626">esxA</text>
<text x="447.5" y="37.0" font-size="11.3" font-style="italic" text-anchor="start" transform="rotate(-56 447.5 37.0)" fill="#262626">espI</text>
<text x="494.0" y="37.0" font-size="11.3" font-style="italic" text-anchor="start" transform="rotate(-56 494.0 37.0)" fill="#262626">eccD1</text>
<text x="526.0" y="37.0" font-size="11.3" font-style="italic" text-anchor="start" transform="rotate(-56 526.0 37.0)" fill="#262626">espJ</text>
<text x="574.5" y="37.0" font-size="11.3" font-style="italic" text-anchor="start" transform="rotate(-56 574.5 37.0)" fill="#262626">espK</text>
<text x="604.0" y="37.0" font-size="11.3" font-style="italic" text-anchor="start" transform="rotate(-56 604.0 37.0)" fill="#262626">espL</text>
<text x="627.0" y="37.0" font-size="11.3" font-style="italic" text-anchor="start" transform="rotate(-56 627.0 37.0)" fill="#262626">espB</text>
<text x="666.0" y="37.0" font-size="11.3" font-style="italic" text-anchor="start" transform="rotate(-56 666.0 37.0)" fill="#262626">eccE1</text>
<text x="696.0" y="37.0" font-size="11.3" font-style="italic" text-anchor="start" transform="rotate(-56 696.0 37.0)" fill="#262626">mycP1</text>
<text x="1.3" y="229.3" font-size="19.5" text-anchor="start" fill="#111">B</text>
<text x="106.3" y="256.4" font-size="11.2" font-style="italic" text-anchor="start" fill="#262626">Mtb</text>
<text x="133.6" y="256.4" font-size="12" text-anchor="start" fill="#262626">H37Rv</text>
<text x="19.7" y="325.4" font-size="11.8" font-style="italic" text-anchor="start" fill="#262626">M. decipiens</text>
<text x="92.3" y="384.4" font-size="11.7" font-style="italic" text-anchor="start" fill="#262626">M. kansasii</text>
<text x="91.2" y="398.3" font-size="12" text-anchor="start" fill="#262626">ATCC 12478</text>
<text x="762.0" y="339.3" font-size="16.1" text-anchor="start" transform="rotate(-90 762.0 339.3)" fill="#262626">ESX-2</text>
<text x="186.3" y="287.8" font-size="10.5" text-anchor="middle" fill="#262626">62.2</text>
<text x="248.4" y="277.8" font-size="10.5" text-anchor="middle" fill="#262626">50.4</text>
<text x="272.9" y="287.8" font-size="10.5" text-anchor="middle" fill="#262626">67.8</text>
<text x="331.6" y="277.8" font-size="10.5" text-anchor="middle" fill="#262626">51.9</text>
<text x="346.2" y="290.4" font-size="10.5" text-anchor="middle" fill="#262626">75.9</text>
<text x="387.5" y="277.8" font-size="10.5" text-anchor="middle" fill="#262626">50.5</text>
<text x="386.1" y="293.0" font-size="10.5" text-anchor="middle" fill="#262626">54.7</text>
<text x="426.0" y="277.8" font-size="10.5" text-anchor="middle" fill="#262626">46.2</text>
<text x="496.8" y="276.0" font-size="10.5" text-anchor="middle" fill="#262626">52.6</text>
<text x="489.8" y="289.0" font-size="10.5" text-anchor="middle" fill="#262626">41.7</text>
<text x="578.6" y="289.0" font-size="10.5" text-anchor="middle" fill="#262626">57.6</text>
<text x="627.4" y="278.6" font-size="10.5" text-anchor="middle" fill="#262626">64.8</text>
<text x="208.1" y="346.4" font-size="10.5" text-anchor="middle" fill="#262626">52.2</text>
<text x="185.7" y="364.7" font-size="10.5" text-anchor="middle" fill="#262626">63.4</text>
<text x="286.1" y="348.2" font-size="10.5" text-anchor="middle" fill="#262626">51.1</text>
<text x="262.0" y="362.0" font-size="10.5" text-anchor="middle" fill="#262626">69.2</text>
<text x="341.6" y="348.2" font-size="10.5" text-anchor="middle" fill="#262626">50.2</text>
<text x="339.0" y="366.0" font-size="10.5" text-anchor="middle" fill="#262626">77.3</text>
<text x="379.6" y="348.2" font-size="10.5" text-anchor="middle" fill="#262626">49.5</text>
<text x="382.2" y="364.7" font-size="10.5" text-anchor="middle" fill="#262626">55.8</text>
<text x="480.0" y="366.0" font-size="10.5" text-anchor="middle" fill="#262626">43.3</text>
<text x="533.1" y="349.0" font-size="10.5" text-anchor="middle" fill="#262626">60.4</text>
<text x="576.0" y="364.7" font-size="10.5" text-anchor="middle" fill="#262626">57.7</text>
<text x="668.6" y="347.7" font-size="10.5" text-anchor="middle" fill="#262626">63</text>
<text x="120.0" y="311.0" font-size="11.8" font-style="italic" text-anchor="start" fill="#262626">Mdec_v2_4861</text>
<text x="325.8" y="310.4" font-size="11.8" font-style="italic" text-anchor="start" fill="#262626">Mdec_v2_4869</text>
<text x="452.4" y="310.4" font-size="11.8" font-style="italic" text-anchor="start" fill="#262626">Mdec_v2_0041</text>
<text x="637.4" y="310.3" font-size="11.8" font-style="italic" text-anchor="start" fill="#262626">Mdec_v2_0036</text>
<text x="195.9" y="377.8" font-size="11.8" font-style="italic" text-anchor="start" fill="#262626">Mkan_14585</text>
<text x="605.3" y="376.5" font-size="11.8" font-style="italic" text-anchor="start" fill="#262626">Mkan_14645</text>
<text x="231.3" y="247.4" font-size="11.3" font-style="italic" text-anchor="start" transform="rotate(-56 231.3 247.4)" fill="#262626">eccA2</text>
<text x="276.5" y="247.4" font-size="11.3" font-style="italic" text-anchor="start" transform="rotate(-56 276.5 247.4)" fill="#262626">eccCE2</text>
<text x="317.0" y="246.1" font-size="11.3" font-style="italic" text-anchor="start" transform="rotate(-56 317.0 246.1)" fill="#262626">mycP2</text>
<text x="360.3" y="247.4" font-size="11.3" font-style="italic" text-anchor="start" transform="rotate(-56 360.3 247.4)" fill="#262626">eccD2</text>
<text x="393.0" y="247.4" font-size="11.3" font-style="italic" text-anchor="start" transform="rotate(-56 393.0 247.4)" fill="#262626">rv3888c</text>
<text x="415.4" y="247.4" font-size="11.3" font-style="italic" text-anchor="start" transform="rotate(-56 415.4 247.4)" fill="#262626">espG2</text>
<text x="428.5" y="247.4" font-size="11.3" font-style="italic" text-anchor="start" transform="rotate(-56 428.5 247.4)" fill="#262626">esxC</text>
<text x="441.7" y="244.8" font-size="11.3" font-style="italic" text-anchor="start" transform="rotate(-56 441.7 244.8)" fill="#262626">esxD</text>
<text x="464.0" y="248.7" font-size="11.3" font-style="italic" text-anchor="start" transform="rotate(-56 464.0 248.7)" fill="#262626">ppe69</text>
<text x="483.6" y="248.7" font-size="11.3" font-style="italic" text-anchor="start" transform="rotate(-56 483.6 248.7)" fill="#262626">pe36</text>
<text x="540.0" y="247.4" font-size="11.3" font-style="italic" text-anchor="start" transform="rotate(-56 540.0 247.4)" fill="#262626">eccC2</text>
<text x="610.0" y="247.4" font-size="11.3" font-style="italic" text-anchor="start" transform="rotate(-56 610.0 247.4)" fill="#262626">eccB2</text>
<text x="69.8" y="438.2" font-size="19.5" text-anchor="start" fill="#111">C</text>
<text x="138.8" y="463.7" font-size="11.2" font-style="italic" text-anchor="start" fill="#262626">Mtb</text>
<text x="165.8" y="463.7" font-size="12" text-anchor="start" fill="#262626">H37Rv</text>
<text x="125.4" y="535.4" font-size="11.8" font-style="italic" text-anchor="start" fill="#262626">M. decipiens</text>
<text x="132.0" y="589.1" font-size="11.7" font-style="italic" text-anchor="start" fill="#262626">M. kansasii</text>
<text x="130.1" y="604.3" font-size="12" text-anchor="start" fill="#262626">ATCC 12478</text>
<text x="762.0" y="550.0" font-size="16.1" text-anchor="start" transform="rotate(-90 762.0 550.0)" fill="#262626">ESX-3</text>
<text x="245.8" y="497.8" font-size="10.5" text-anchor="middle" fill="#262626">91</text>
<text x="288.0" y="484.7" font-size="10.5" text-anchor="middle" fill="#262626">82.7</text>
<text x="358.6" y="497.8" font-size="10.5" text-anchor="middle" fill="#262626">90</text>
<text x="423.1" y="483.4" font-size="10.5" text-anchor="middle" fill="#262626">87.3</text>
<text x="435.9" y="497.8" font-size="10.5" text-anchor="middle" fill="#262626">76.8</text>
<text x="459.6" y="483.4" font-size="10.5" text-anchor="middle" fill="#262626">92.8</text>
<text x="478.9" y="497.8" font-size="10.5" text-anchor="middle" fill="#262626">84.2</text>
<text x="492.4" y="483.4" font-size="10.5" text-anchor="middle" fill="#262626">87.9</text>
<text x="523.2" y="497.8" font-size="10.5" text-anchor="middle" fill="#262626">89.5</text>
<text x="554.6" y="485.5" font-size="10.5" text-anchor="middle" fill="#262626">85.3</text>
<text x="590.8" y="497.8" font-size="10.5" text-anchor="middle" fill="#262626">78</text>
<text x="244.2" y="569.5" font-size="12" font-style="italic" text-anchor="middle" fill="#262626">87.5</text>
<text x="289.9" y="551.1" font-size="12" font-style="italic" text-anchor="middle" fill="#262626">78.9</text>
<text x="364.6" y="569.5" font-size="12" font-style="italic" text-anchor="middle" fill="#262626">87.6</text>
<text x="412.6" y="551.1" font-size="12" font-style="italic" text-anchor="middle" fill="#262626">81.2</text>
<text x="439.9" y="569.5" font-size="12" font-style="italic" text-anchor="middle" fill="#262626">68.6</text>
<text x="463.5" y="551.1" font-size="12" font-style="italic" text-anchor="middle" fill="#262626">86.6</text>
<text x="479.4" y="569.5" font-size="12" font-style="italic" text-anchor="middle" fill="#262626">83.2</text>
<text x="495.1" y="551.1" font-size="12" font-style="italic" text-anchor="middle" fill="#262626">81.1</text>
<text x="522.6" y="569.5" font-size="12" font-style="italic" text-anchor="middle" fill="#262626">84.4</text>
<text x="558.9" y="551.1" font-size="12" font-style="italic" text-anchor="middle" fill="#262626">80.8</text>
<text x="589.5" y="569.5" font-size="12" font-style="italic" text-anchor="middle" fill="#262626">64.5</text>
<text x="233.7" y="517.8" font-size="11.8" font-style="italic" text-anchor="start" fill="#262626">Mdec_v2_0427</text>
<text x="529.6" y="518.3" font-size="11.8" font-style="italic" text-anchor="start" fill="#262626">Mdec_v2_0437</text>
<text x="229.0" y="585.2" font-size="11.8" font-style="italic" text-anchor="start" fill="#262626">Mkan_16980</text>
<text x="538.0" y="585.2" font-size="11.8" font-style="italic" text-anchor="start" fill="#262626">Mkan_17030</text>
<text x="249.0" y="452.1" font-size="11.3" font-style="italic" text-anchor="start" transform="rotate(-56 249.0 452.1)" fill="#262626">eccA3</text>
<text x="293.6" y="452.1" font-size="11.3" font-style="italic" text-anchor="start" transform="rotate(-56 293.6 452.1)" fill="#262626">eccB3</text>
<text x="361.8" y="452.1" font-size="11.3" font-style="italic" text-anchor="start" transform="rotate(-56 361.8 452.1)" fill="#262626">eccC3</text>
<text x="420.8" y="453.5" font-size="11.3" font-style="italic" text-anchor="start" transform="rotate(-56 420.8 453.5)" fill="#262626">pe5</text>
<text x="440.5" y="453.5" font-size="11.3" font-style="italic" text-anchor="start" transform="rotate(-56 440.5 453.5)" fill="#262626">ppe4</text>
<text x="468.1" y="452.1" font-size="11.3" font-style="italic" text-anchor="start" transform="rotate(-56 468.1 452.1)" fill="#262626">esxG</text>
<text x="479.9" y="452.1" font-size="11.3" font-style="italic" text-anchor="start" transform="rotate(-56 479.9 452.1)" fill="#262626">esxH</text>
<text x="490.3" y="452.1" font-size="11.3" font-style="italic" text-anchor="start" transform="rotate(-56 490.3 452.1)" fill="#262626">espG3</text>
<text x="523.1" y="452.1" font-size="11.3" font-style="italic" text-anchor="start" transform="rotate(-56 523.1 452.1)" fill="#262626">eccD3</text>
<text x="554.5" y="452.1" font-size="11.3" font-style="italic" text-anchor="start" transform="rotate(-56 554.5 452.1)" fill="#262626">mycP3</text>
<text x="588.6" y="452.1" font-size="11.3" font-style="italic" text-anchor="start" transform="rotate(-56 588.6 452.1)" fill="#262626">eccE3</text>
<text x="106.2" y="649.1" font-size="19.5" text-anchor="start" fill="#111">D</text>
<text x="204.1" y="673.3" font-size="11.2" font-style="italic" text-anchor="start" fill="#262626">Mtb</text>
<text x="230.9" y="673.3" font-size="12" text-anchor="start" fill="#262626">H37Rv</text>
<text x="192.5" y="743.3" font-size="11.8" font-style="italic" text-anchor="start" fill="#262626">M. decipiens</text>
<text x="199.8" y="799.4" font-size="11.7" font-style="italic" text-anchor="start" fill="#262626">M. kansasii</text>
<text x="199.0" y="814.1" font-size="12" text-anchor="start" fill="#262626">ATCC 12478</text>
<text x="762.0" y="761.4" font-size="16.1" text-anchor="start" transform="rotate(-90 762.0 761.4)" fill="#262626">ESX-4</text>
<text x="304.5" y="695.5" font-size="10.5" text-anchor="middle" fill="#262626">87.6</text>
<text x="290.5" y="708.6" font-size="10.5" text-anchor="middle" fill="#262626">95</text>
<text x="324.6" y="708.6" font-size="10.5" text-anchor="middle" fill="#262626">70.6</text>
<text x="386.2" y="695.5" font-size="10.5" text-anchor="middle" fill="#262626">79.1</text>
<text x="476.8" y="696.5" font-size="10.5" text-anchor="middle" fill="#262626">82.4</text>
<text x="440.6" y="708.0" font-size="10.5" text-anchor="middle" fill="#262626">73.4</text>
<text x="520.0" y="708.6" font-size="10.5" text-anchor="middle" fill="#262626">80.6</text>
<text x="306.6" y="764.3" font-size="10.5" text-anchor="middle" fill="#262626">79.6</text>
<text x="294.8" y="775.8" font-size="10.5" text-anchor="middle" fill="#262626">86</text>
<text x="324.5" y="775.8" font-size="10.5" text-anchor="middle" fill="#262626">60.8</text>
<text x="387.4" y="764.1" font-size="10.5" text-anchor="middle" fill="#262626">66.3</text>
<text x="479.1" y="764.1" font-size="10.5" text-anchor="middle" fill="#262626">68.6</text>
<text x="444.4" y="776.3" font-size="10.5" text-anchor="middle" fill="#262626">58.8</text>
<text x="525.5" y="776.3" font-size="10.5" text-anchor="middle" fill="#262626">62</text>
<text x="295.3" y="731.0" font-size="11.8" font-style="italic" text-anchor="start" fill="#262626">Mdec_v2_1017</text>
<text x="477.4" y="728.3" font-size="11.8" font-style="italic" text-anchor="start" fill="#262626">Mdec_v2_1011</text>
<text x="300.0" y="798.4" font-size="11.8" font-style="italic" text-anchor="start" fill="#262626">Mkan_20085</text>
<text x="470.9" y="798.6" font-size="11.8" font-style="italic" text-anchor="start" fill="#262626">Mkan_20055</text>
<text x="298.8" y="666.9" font-size="11.5" font-style="italic" text-anchor="start" transform="rotate(-47 298.8 666.9)" fill="#262626">esxT</text>
<text x="315.9" y="665.5" font-size="11.5" font-style="italic" text-anchor="start" transform="rotate(-47 315.9 665.5)" fill="#262626">esxU</text>
<text x="334.2" y="664.3" font-size="11.5" font-style="italic" text-anchor="start" transform="rotate(-47 334.2 664.3)" fill="#262626">Rv3444c</text>
<text x="397.4" y="665.9" font-size="11.5" font-style="italic" text-anchor="start" transform="rotate(-47 397.4 665.9)" fill="#262626">eccC4</text>
<text x="453.1" y="664.3" font-size="11.5" font-style="italic" text-anchor="start" transform="rotate(-47 453.1 664.3)" fill="#262626">eccD4</text>
<text x="485.9" y="664.3" font-size="11.5" font-style="italic" text-anchor="start" transform="rotate(-47 485.9 664.3)" fill="#262626">mycP4</text>
<text x="526.8" y="665.9" font-size="11.5" font-style="italic" text-anchor="start" transform="rotate(-47 526.8 665.9)" fill="#262626">eccB4</text>
<text x="28.8" y="865.9" font-size="19.5" text-anchor="start" fill="#111">E</text>
<text x="61.6" y="892.7" font-size="11.2" font-style="italic" text-anchor="start" fill="#262626">Mtb</text>
<text x="82.4" y="892.7" font-size="12" text-anchor="start" fill="#262626">H37Rv</text>
<text x="36.7" y="959.3" font-size="11.8" font-style="italic" text-anchor="start" fill="#262626">M. decipiens</text>
<text x="62.9" y="1022.2" font-size="11.7" font-style="italic" text-anchor="start" fill="#262626">M. kansasii</text>
<text x="62.9" y="1036.6" font-size="12" text-anchor="start" fill="#262626">ATCC 12478</text>
<text x="762.0" y="974.7" font-size="16.1" text-anchor="start" transform="rotate(-90 762.0 974.7)" fill="#262626">ESX-5</text>
<text x="160.6" y="923.0" font-size="10.5" text-anchor="middle" fill="#262626">93.6</text>
<text x="208.1" y="912.1" font-size="10.5" text-anchor="middle" fill="#262626">97.7</text>
<text x="241.2" y="926.5" font-size="10.5" text-anchor="middle" fill="#262626">96.6</text>
<text x="309.4" y="912.1" font-size="10.5" text-anchor="middle" fill="#262626">92.4</text>
<text x="328.6" y="926.5" font-size="10.5" text-anchor="middle" fill="#262626">92.2</text>
<text x="356.9" y="911.3" font-size="10.5" text-anchor="middle" fill="#262626">77.1</text>
<text x="383.3" y="925.2" font-size="10.5" text-anchor="middle" fill="#262626">90.9</text>
<text x="399.6" y="911.3" font-size="10.5" text-anchor="middle" fill="#262626">87.7</text>
<text x="440.8" y="927.3" font-size="10.5" text-anchor="middle" fill="#262626">58</text>
<text x="457.0" y="911.3" font-size="10.5" text-anchor="middle" fill="#262626">90.9</text>
<text x="486.1" y="911.3" font-size="10.5" text-anchor="middle" fill="#262626">95.7</text>
<text x="481.4" y="928.6" font-size="10.5" text-anchor="middle" fill="#262626">95.9</text>
<text x="508.4" y="929.9" font-size="10.5" text-anchor="middle" fill="#262626">98</text>
<text x="531.8" y="911.3" font-size="10.5" text-anchor="middle" fill="#262626">93.4</text>
<text x="581.1" y="924.4" font-size="10.5" text-anchor="middle" fill="#262626">90.6</text>
<text x="610.8" y="912.6" font-size="10.5" text-anchor="middle" fill="#262626">88.4</text>
<text x="655.3" y="924.4" font-size="10.5" text-anchor="middle" fill="#262626">97.2</text>
<text x="166.3" y="993.5" font-size="10.5" text-anchor="middle" fill="#262626">87.5</text>
<text x="232.8" y="981.1" font-size="10.5" text-anchor="middle" fill="#262626">94</text>
<text x="331.5" y="981.1" font-size="10.5" text-anchor="middle" fill="#262626">87.5</text>
<text x="311.9" y="993.7" font-size="10.5" text-anchor="middle" fill="#262626">86.7</text>
<text x="394.0" y="981.1" font-size="10.5" text-anchor="middle" fill="#262626">83.3</text>
<text x="426.3" y="981.1" font-size="10.5" text-anchor="middle" fill="#262626">52.6</text>
<text x="475.9" y="980.3" font-size="10.5" text-anchor="middle" fill="#262626">88.8</text>
<text x="511.1" y="981.1" font-size="10.5" text-anchor="middle" fill="#262626">97</text>
<text x="369.6" y="993.7" font-size="10.5" text-anchor="middle" fill="#262626">68.9</text>
<text x="457.0" y="993.7" font-size="10.5" text-anchor="middle" fill="#262626">90.9</text>
<text x="488.4" y="993.7" font-size="10.5" text-anchor="middle" fill="#262626">97.9</text>
<text x="411.6" y="1007.8" font-size="10.5" text-anchor="middle" fill="#262626">70.3</text>
<text x="585.9" y="981.1" font-size="10.5" text-anchor="middle" fill="#262626">85.8</text>
<text x="659.8" y="981.1" font-size="10.5" text-anchor="middle" fill="#262626">93.4</text>
<text x="537.4" y="993.7" font-size="10.5" text-anchor="middle" fill="#262626">85.7</text>
<text x="608.1" y="993.7" font-size="10.5" text-anchor="middle" fill="#262626">78.6</text>
<text x="141.5" y="948.3" font-size="11.8" font-style="italic" text-anchor="start" fill="#262626">Mdec_v2_2393</text>
<text x="610.1" y="947.5" font-size="11.8" font-style="italic" text-anchor="start" fill="#262626">Mdec_v2_2409</text>
<text x="157.9" y="1015.2" font-size="11.8" font-style="italic" text-anchor="start" fill="#262626">Mkan_00155</text>
<text x="597.8" y="1017.8" font-size="11.8" font-style="italic" text-anchor="start" fill="#262626">Mkan_00225</text>
<text x="182.3" y="879.8" font-size="11.6" font-style="italic" text-anchor="start" transform="rotate(-56 182.3 879.8)" fill="#262626">eccB5</text>
<text x="216.4" y="879.8" font-size="11.6" font-style="italic" text-anchor="start" transform="rotate(-56 216.4 879.8)" fill="#262626">eccCa5</text>
<text x="268.8" y="879.8" font-size="11.6" font-style="italic" text-anchor="start" transform="rotate(-56 268.8 879.8)" fill="#262626">eccCb5</text>
<text x="329.1" y="879.8" font-size="11.6" font-style="italic" text-anchor="start" transform="rotate(-56 329.1 879.8)" fill="#262626">cyp143</text>
<text x="351.0" y="879.8" font-size="11.6" font-style="italic" text-anchor="start" transform="rotate(-56 351.0 879.8)" fill="#262626">Rv1786</text>
<text x="368.1" y="882.5" font-size="11.6" font-style="italic" text-anchor="start" transform="rotate(-56 368.1 882.5)" fill="#262626">ppe25</text>
<text x="387.7" y="881.1" font-size="11.6" font-style="italic" text-anchor="start" transform="rotate(-56 387.7 881.1)" fill="#262626">pe18</text>
<text x="406.1" y="882.5" font-size="11.6" font-style="italic" text-anchor="start" transform="rotate(-56 406.1 882.5)" fill="#262626">ppe26</text>
<text x="438.8" y="882.5" font-size="11.6" font-style="italic" text-anchor="start" transform="rotate(-56 438.8 882.5)" fill="#262626">ppe27</text>
<text x="466.4" y="882.5" font-size="11.6" font-style="italic" text-anchor="start" transform="rotate(-56 466.4 882.5)" fill="#262626">pe19</text>
<text x="482.1" y="879.8" font-size="11.6" font-style="italic" text-anchor="start" transform="rotate(-56 482.1 879.8)" fill="#262626">esxM</text>
<text x="495.2" y="879.8" font-size="11.6" font-style="italic" text-anchor="start" transform="rotate(-56 495.2 879.8)" fill="#262626">esxN</text>
<text x="516.6" y="879.8" font-size="11.6" font-style="italic" text-anchor="start" transform="rotate(-56 516.6 879.8)" fill="#262626">Rv1794</text>
<text x="536.3" y="879.8" font-size="11.6" font-style="italic" text-anchor="start" transform="rotate(-56 536.3 879.8)" fill="#262626">eccD5</text>
<text x="579.5" y="879.8" font-size="11.6" font-style="italic" text-anchor="start" transform="rotate(-56 579.5 879.8)" fill="#262626">mycP5</text>
<text x="616.2" y="879.8" font-size="11.6" font-style="italic" text-anchor="start" transform="rotate(-56 616.2 879.8)" fill="#262626">eccE5</text>
<text x="651.6" y="879.8" font-size="11.6" font-style="italic" text-anchor="start" transform="rotate(-56 651.6 879.8)" fill="#262626">eccA5</text>
</g>
</svg>
</body></html>
